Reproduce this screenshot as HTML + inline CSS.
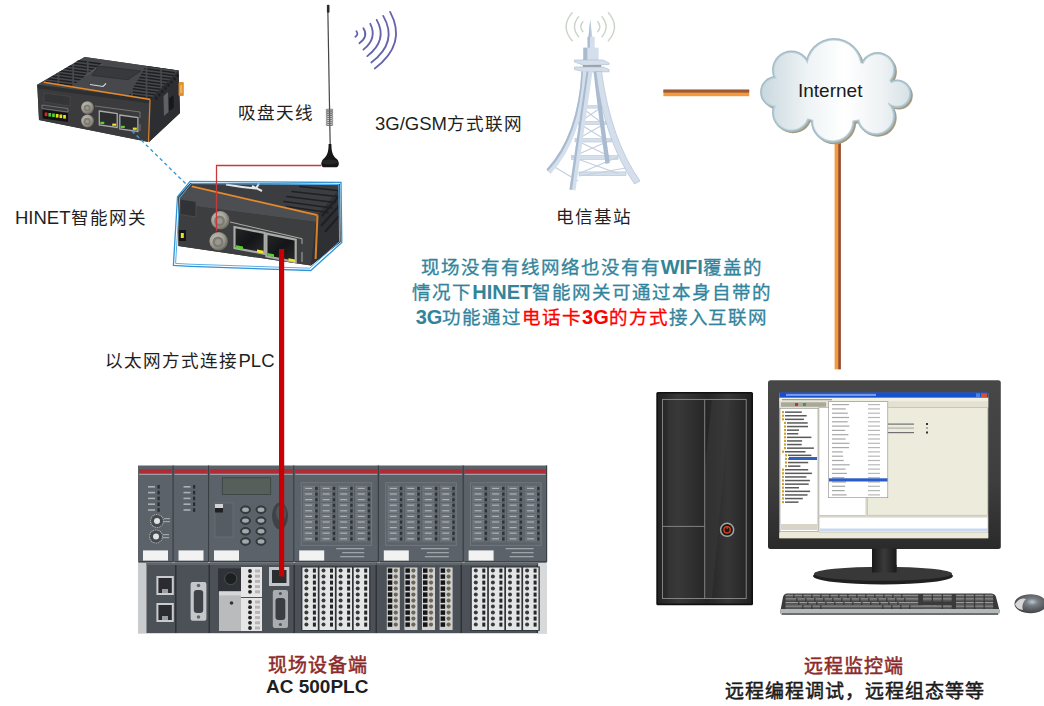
<!DOCTYPE html>
<html lang="zh-CN"><head><meta charset="utf-8">
<style>
html,body{margin:0;padding:0;background:#fff;}
body{width:1044px;height:706px;position:relative;overflow:hidden;font-family:"Liberation Sans",sans-serif;}
.a{position:absolute;}
.t{position:absolute;white-space:nowrap;font-size:18.5px;color:#1f1f1f;line-height:1;}
.ctr{position:absolute;left:392px;width:400px;text-align:center;font-size:20px;font-weight:bold;color:#31849b;line-height:25px;top:255px;white-space:nowrap;}
.ctr .r{color:#ff0000;}
.t .c{font-size:17.6px;letter-spacing:1.07px;font-weight:350;}
.ctr .c{font-size:18.5px;letter-spacing:0.95px;font-weight:500;-webkit-text-stroke:0.3px;}
.lbl{letter-spacing:1px;}
.lbl{position:absolute;white-space:nowrap;font-family:"Liberation Serif",serif;font-size:19px;font-weight:500;line-height:1;-webkit-text-stroke:0.5px;}
</style></head>
<body>

<svg class="a" style="left:0;top:0" width="1044" height="706" viewBox="0 0 1044 706">
<rect x="138" y="465.5" width="409" height="96.5" fill="#5b6269"/>
<rect x="138.5" y="466" width="34.0" height="95.5" fill="#5b6269"/>
<rect x="172.5" y="465.5" width="1.2" height="96.5" fill="#3a3f44"/>
<rect x="139" y="469.3" width="33.0" height="4" fill="#ad2c35"/>
<rect x="139" y="473.8" width="33.0" height="1.2" fill="#9aa0a6"/>
<rect x="143" y="550.4" width="25" height="10.2" fill="#f2f2f2"/>
<rect x="139" y="561" width="33.5" height="1.5" fill="#3d4247"/>
<rect x="174.0" y="466" width="34.0" height="95.5" fill="#5b6269"/>
<rect x="208" y="465.5" width="1.2" height="96.5" fill="#3a3f44"/>
<rect x="174.5" y="469.3" width="33.0" height="4" fill="#ad2c35"/>
<rect x="174.5" y="473.8" width="33.0" height="1.2" fill="#9aa0a6"/>
<rect x="178.5" y="550.4" width="25" height="10.2" fill="#f2f2f2"/>
<rect x="174.5" y="561" width="33.5" height="1.5" fill="#3d4247"/>
<rect x="209.5" y="466" width="83.69999999999999" height="95.5" fill="#5b6269"/>
<rect x="293.2" y="465.5" width="1.2" height="96.5" fill="#3a3f44"/>
<rect x="210" y="469.3" width="82.69999999999999" height="4" fill="#ad2c35"/>
<rect x="210" y="473.8" width="82.69999999999999" height="1.2" fill="#9aa0a6"/>
<rect x="214" y="550.4" width="25" height="10.2" fill="#f2f2f2"/>
<rect x="210" y="561" width="83.19999999999999" height="1.5" fill="#3d4247"/>
<rect x="294.7" y="466" width="83.10000000000002" height="95.5" fill="#5b6269"/>
<rect x="377.8" y="465.5" width="1.2" height="96.5" fill="#3a3f44"/>
<rect x="295.2" y="469.3" width="82.10000000000002" height="4" fill="#ad2c35"/>
<rect x="295.2" y="473.8" width="82.10000000000002" height="1.2" fill="#9aa0a6"/>
<rect x="299.2" y="550.4" width="25" height="10.2" fill="#f2f2f2"/>
<rect x="295.2" y="561" width="82.60000000000002" height="1.5" fill="#3d4247"/>
<rect x="379.3" y="466" width="83.30000000000001" height="95.5" fill="#5b6269"/>
<rect x="462.6" y="465.5" width="1.2" height="96.5" fill="#3a3f44"/>
<rect x="379.8" y="469.3" width="82.30000000000001" height="4" fill="#ad2c35"/>
<rect x="379.8" y="473.8" width="82.30000000000001" height="1.2" fill="#9aa0a6"/>
<rect x="383.8" y="550.4" width="25" height="10.2" fill="#f2f2f2"/>
<rect x="379.8" y="561" width="82.80000000000001" height="1.5" fill="#3d4247"/>
<rect x="464.1" y="466" width="81.89999999999998" height="95.5" fill="#5b6269"/>
<rect x="546" y="465.5" width="1.2" height="96.5" fill="#3a3f44"/>
<rect x="464.6" y="469.3" width="80.89999999999998" height="4" fill="#ad2c35"/>
<rect x="464.6" y="473.8" width="80.89999999999998" height="1.2" fill="#9aa0a6"/>
<rect x="468.6" y="550.4" width="25" height="10.2" fill="#f2f2f2"/>
<rect x="464.6" y="561" width="81.39999999999998" height="1.5" fill="#3d4247"/>
<rect x="148" y="486.0" width="7" height="1.6" fill="#aab0b6"/>
<rect x="157.5" y="485.0" width="2.2" height="3.6" fill="#2a2d30"/>
<rect x="148" y="491.8" width="7" height="1.6" fill="#aab0b6"/>
<rect x="157.5" y="490.8" width="2.2" height="3.6" fill="#2a2d30"/>
<rect x="148" y="497.6" width="7" height="1.6" fill="#aab0b6"/>
<rect x="157.5" y="496.6" width="2.2" height="3.6" fill="#2a2d30"/>
<rect x="148" y="503.4" width="7" height="1.6" fill="#aab0b6"/>
<rect x="157.5" y="502.4" width="2.2" height="3.6" fill="#2a2d30"/>
<rect x="148" y="509.2" width="7" height="1.6" fill="#aab0b6"/>
<rect x="157.5" y="508.2" width="2.2" height="3.6" fill="#2a2d30"/>
<rect x="183.5" y="486.0" width="7" height="1.6" fill="#aab0b6"/>
<rect x="193.0" y="485.0" width="2.2" height="3.6" fill="#2a2d30"/>
<rect x="183.5" y="491.8" width="7" height="1.6" fill="#aab0b6"/>
<rect x="193.0" y="490.8" width="2.2" height="3.6" fill="#2a2d30"/>
<rect x="183.5" y="497.6" width="7" height="1.6" fill="#aab0b6"/>
<rect x="193.0" y="496.6" width="2.2" height="3.6" fill="#2a2d30"/>
<rect x="183.5" y="503.4" width="7" height="1.6" fill="#aab0b6"/>
<rect x="193.0" y="502.4" width="2.2" height="3.6" fill="#2a2d30"/>
<rect x="183.5" y="509.2" width="7" height="1.6" fill="#aab0b6"/>
<rect x="193.0" y="508.2" width="2.2" height="3.6" fill="#2a2d30"/>
<circle cx="157" cy="521" r="6.5" fill="#454a4f" stroke="#b5babf" stroke-width="1.1" stroke-dasharray="0.9 0.9"/><circle cx="157" cy="521" r="3" fill="#e0e2e4"/><rect x="164" y="518" width="6" height="1.2" fill="#a0a5aa"/><rect x="164" y="521" width="6" height="1.2" fill="#a0a5aa"/>
<circle cx="156" cy="536.5" r="6.5" fill="#454a4f" stroke="#b5babf" stroke-width="1.1" stroke-dasharray="0.9 0.9"/><circle cx="156" cy="536.5" r="3" fill="#e0e2e4"/><rect x="163" y="534" width="6" height="1.2" fill="#a0a5aa"/><rect x="163" y="537" width="6" height="1.2" fill="#a0a5aa"/>
<rect x="222.3" y="477.8" width="48.4" height="16.6" fill="#565f5a" stroke="#3b4040" stroke-width="0.8"/>
<rect x="215" y="503" width="18" height="34" fill="#555c63" stroke="#6e757b" stroke-width="0.6"/>
<rect x="215" y="508" width="8" height="4.5" fill="#1e2023"/><rect x="215" y="504" width="8" height="4" fill="#d0d3d6"/>
<ellipse cx="245.5" cy="509.7" rx="5" ry="3.8" fill="#3a3f44" stroke="#2a2e32" stroke-width="0.8"/><ellipse cx="245.5" cy="509.7" rx="3.4" ry="2.2" fill="#a3a8ad"/>
<ellipse cx="261" cy="509.7" rx="5" ry="3.8" fill="#3a3f44" stroke="#2a2e32" stroke-width="0.8"/><ellipse cx="261" cy="509.7" rx="3.4" ry="2.2" fill="#a3a8ad"/>
<ellipse cx="245.5" cy="520.6" rx="5" ry="3.8" fill="#3a3f44" stroke="#2a2e32" stroke-width="0.8"/><ellipse cx="245.5" cy="520.6" rx="3.4" ry="2.2" fill="#a3a8ad"/>
<ellipse cx="261" cy="520.6" rx="5" ry="3.8" fill="#3a3f44" stroke="#2a2e32" stroke-width="0.8"/><ellipse cx="261" cy="520.6" rx="3.4" ry="2.2" fill="#a3a8ad"/>
<ellipse cx="245.5" cy="531.3" rx="5" ry="3.8" fill="#3a3f44" stroke="#2a2e32" stroke-width="0.8"/><ellipse cx="245.5" cy="531.3" rx="3.4" ry="2.2" fill="#a3a8ad"/>
<ellipse cx="261" cy="531.3" rx="5" ry="3.8" fill="#3a3f44" stroke="#2a2e32" stroke-width="0.8"/><ellipse cx="261" cy="531.3" rx="3.4" ry="2.2" fill="#a3a8ad"/>
<ellipse cx="245.5" cy="541.5" rx="5" ry="3.8" fill="#3a3f44" stroke="#2a2e32" stroke-width="0.8"/><ellipse cx="245.5" cy="541.5" rx="3.4" ry="2.2" fill="#a3a8ad"/>
<ellipse cx="261" cy="541.5" rx="5" ry="3.8" fill="#3a3f44" stroke="#2a2e32" stroke-width="0.8"/><ellipse cx="261" cy="541.5" rx="3.4" ry="2.2" fill="#a3a8ad"/>
<ellipse cx="280" cy="516" rx="8" ry="13.5" fill="#3e4348"/><ellipse cx="281" cy="513" rx="5" ry="8" fill="#50565b"/>
<rect x="301.2" y="482.8" width="70.5" height="62.5" fill="none" stroke="#777d83" stroke-width="0.8"/>
<rect x="303.2" y="485" width="15.5" height="57" fill="none" stroke="#70767c" stroke-width="0.6"/>
<rect x="304.0" y="486.5" width="10.5" height="4" fill="#6a7077" stroke="#858b91" stroke-width="0.4"/><rect x="305.2" y="487.8" width="7" height="1.2" fill="#aeb3b8"/>
<rect x="315.2" y="487.0" width="2.4" height="3" fill="#2e3236"/>
<rect x="304.0" y="492.1" width="10.5" height="4" fill="#6a7077" stroke="#858b91" stroke-width="0.4"/><rect x="305.2" y="493.40000000000003" width="7" height="1.2" fill="#aeb3b8"/>
<rect x="315.2" y="492.6" width="2.4" height="3" fill="#2e3236"/>
<rect x="304.0" y="497.7" width="10.5" height="4" fill="#6a7077" stroke="#858b91" stroke-width="0.4"/><rect x="305.2" y="499.0" width="7" height="1.2" fill="#aeb3b8"/>
<rect x="315.2" y="498.2" width="2.4" height="3" fill="#2e3236"/>
<rect x="304.0" y="503.3" width="10.5" height="4" fill="#6a7077" stroke="#858b91" stroke-width="0.4"/><rect x="305.2" y="504.6" width="7" height="1.2" fill="#aeb3b8"/>
<rect x="315.2" y="503.8" width="2.4" height="3" fill="#2e3236"/>
<rect x="304.0" y="508.9" width="10.5" height="4" fill="#6a7077" stroke="#858b91" stroke-width="0.4"/><rect x="305.2" y="510.2" width="7" height="1.2" fill="#aeb3b8"/>
<rect x="315.2" y="509.4" width="2.4" height="3" fill="#2e3236"/>
<rect x="304.0" y="514.5" width="10.5" height="4" fill="#6a7077" stroke="#858b91" stroke-width="0.4"/><rect x="305.2" y="515.8" width="7" height="1.2" fill="#aeb3b8"/>
<rect x="315.2" y="515.0" width="2.4" height="3" fill="#2e3236"/>
<rect x="304.0" y="520.1" width="10.5" height="4" fill="#6a7077" stroke="#858b91" stroke-width="0.4"/><rect x="305.2" y="521.4" width="7" height="1.2" fill="#aeb3b8"/>
<rect x="315.2" y="520.6" width="2.4" height="3" fill="#2e3236"/>
<rect x="304.0" y="525.7" width="10.5" height="4" fill="#6a7077" stroke="#858b91" stroke-width="0.4"/><rect x="305.2" y="527.0" width="7" height="1.2" fill="#aeb3b8"/>
<rect x="315.2" y="526.2" width="2.4" height="3" fill="#2e3236"/>
<rect x="304.0" y="531.3" width="10.5" height="4" fill="#6a7077" stroke="#858b91" stroke-width="0.4"/><rect x="305.2" y="532.5999999999999" width="7" height="1.2" fill="#aeb3b8"/>
<rect x="315.2" y="531.8" width="2.4" height="3" fill="#2e3236"/>
<rect x="304.0" y="536.9" width="10.5" height="4" fill="#6a7077" stroke="#858b91" stroke-width="0.4"/><rect x="305.2" y="538.1999999999999" width="7" height="1.2" fill="#aeb3b8"/>
<rect x="315.2" y="537.4" width="2.4" height="3" fill="#2e3236"/>
<rect x="320.7" y="485" width="15.5" height="57" fill="none" stroke="#70767c" stroke-width="0.6"/>
<rect x="321.5" y="486.5" width="10.5" height="4" fill="#6a7077" stroke="#858b91" stroke-width="0.4"/><rect x="322.7" y="487.8" width="7" height="1.2" fill="#aeb3b8"/>
<rect x="332.7" y="487.0" width="2.4" height="3" fill="#2e3236"/>
<rect x="321.5" y="492.1" width="10.5" height="4" fill="#6a7077" stroke="#858b91" stroke-width="0.4"/><rect x="322.7" y="493.40000000000003" width="7" height="1.2" fill="#aeb3b8"/>
<rect x="332.7" y="492.6" width="2.4" height="3" fill="#2e3236"/>
<rect x="321.5" y="497.7" width="10.5" height="4" fill="#6a7077" stroke="#858b91" stroke-width="0.4"/><rect x="322.7" y="499.0" width="7" height="1.2" fill="#aeb3b8"/>
<rect x="332.7" y="498.2" width="2.4" height="3" fill="#2e3236"/>
<rect x="321.5" y="503.3" width="10.5" height="4" fill="#6a7077" stroke="#858b91" stroke-width="0.4"/><rect x="322.7" y="504.6" width="7" height="1.2" fill="#aeb3b8"/>
<rect x="332.7" y="503.8" width="2.4" height="3" fill="#2e3236"/>
<rect x="321.5" y="508.9" width="10.5" height="4" fill="#6a7077" stroke="#858b91" stroke-width="0.4"/><rect x="322.7" y="510.2" width="7" height="1.2" fill="#aeb3b8"/>
<rect x="332.7" y="509.4" width="2.4" height="3" fill="#2e3236"/>
<rect x="321.5" y="514.5" width="10.5" height="4" fill="#6a7077" stroke="#858b91" stroke-width="0.4"/><rect x="322.7" y="515.8" width="7" height="1.2" fill="#aeb3b8"/>
<rect x="332.7" y="515.0" width="2.4" height="3" fill="#2e3236"/>
<rect x="321.5" y="520.1" width="10.5" height="4" fill="#6a7077" stroke="#858b91" stroke-width="0.4"/><rect x="322.7" y="521.4" width="7" height="1.2" fill="#aeb3b8"/>
<rect x="332.7" y="520.6" width="2.4" height="3" fill="#2e3236"/>
<rect x="321.5" y="525.7" width="10.5" height="4" fill="#6a7077" stroke="#858b91" stroke-width="0.4"/><rect x="322.7" y="527.0" width="7" height="1.2" fill="#aeb3b8"/>
<rect x="332.7" y="526.2" width="2.4" height="3" fill="#2e3236"/>
<rect x="321.5" y="531.3" width="10.5" height="4" fill="#6a7077" stroke="#858b91" stroke-width="0.4"/><rect x="322.7" y="532.5999999999999" width="7" height="1.2" fill="#aeb3b8"/>
<rect x="332.7" y="531.8" width="2.4" height="3" fill="#2e3236"/>
<rect x="321.5" y="536.9" width="10.5" height="4" fill="#6a7077" stroke="#858b91" stroke-width="0.4"/><rect x="322.7" y="538.1999999999999" width="7" height="1.2" fill="#aeb3b8"/>
<rect x="332.7" y="537.4" width="2.4" height="3" fill="#2e3236"/>
<rect x="338.2" y="485" width="15.5" height="57" fill="none" stroke="#70767c" stroke-width="0.6"/>
<rect x="339.0" y="486.5" width="10.5" height="4" fill="#6a7077" stroke="#858b91" stroke-width="0.4"/><rect x="340.2" y="487.8" width="7" height="1.2" fill="#aeb3b8"/>
<rect x="350.2" y="487.0" width="2.4" height="3" fill="#2e3236"/>
<rect x="339.0" y="492.1" width="10.5" height="4" fill="#6a7077" stroke="#858b91" stroke-width="0.4"/><rect x="340.2" y="493.40000000000003" width="7" height="1.2" fill="#aeb3b8"/>
<rect x="350.2" y="492.6" width="2.4" height="3" fill="#2e3236"/>
<rect x="339.0" y="497.7" width="10.5" height="4" fill="#6a7077" stroke="#858b91" stroke-width="0.4"/><rect x="340.2" y="499.0" width="7" height="1.2" fill="#aeb3b8"/>
<rect x="350.2" y="498.2" width="2.4" height="3" fill="#2e3236"/>
<rect x="339.0" y="503.3" width="10.5" height="4" fill="#6a7077" stroke="#858b91" stroke-width="0.4"/><rect x="340.2" y="504.6" width="7" height="1.2" fill="#aeb3b8"/>
<rect x="350.2" y="503.8" width="2.4" height="3" fill="#2e3236"/>
<rect x="339.0" y="508.9" width="10.5" height="4" fill="#6a7077" stroke="#858b91" stroke-width="0.4"/><rect x="340.2" y="510.2" width="7" height="1.2" fill="#aeb3b8"/>
<rect x="350.2" y="509.4" width="2.4" height="3" fill="#2e3236"/>
<rect x="339.0" y="514.5" width="10.5" height="4" fill="#6a7077" stroke="#858b91" stroke-width="0.4"/><rect x="340.2" y="515.8" width="7" height="1.2" fill="#aeb3b8"/>
<rect x="350.2" y="515.0" width="2.4" height="3" fill="#2e3236"/>
<rect x="339.0" y="520.1" width="10.5" height="4" fill="#6a7077" stroke="#858b91" stroke-width="0.4"/><rect x="340.2" y="521.4" width="7" height="1.2" fill="#aeb3b8"/>
<rect x="350.2" y="520.6" width="2.4" height="3" fill="#2e3236"/>
<rect x="339.0" y="525.7" width="10.5" height="4" fill="#6a7077" stroke="#858b91" stroke-width="0.4"/><rect x="340.2" y="527.0" width="7" height="1.2" fill="#aeb3b8"/>
<rect x="350.2" y="526.2" width="2.4" height="3" fill="#2e3236"/>
<rect x="339.0" y="531.3" width="10.5" height="4" fill="#6a7077" stroke="#858b91" stroke-width="0.4"/><rect x="340.2" y="532.5999999999999" width="7" height="1.2" fill="#aeb3b8"/>
<rect x="350.2" y="531.8" width="2.4" height="3" fill="#2e3236"/>
<rect x="339.0" y="536.9" width="10.5" height="4" fill="#6a7077" stroke="#858b91" stroke-width="0.4"/><rect x="340.2" y="538.1999999999999" width="7" height="1.2" fill="#aeb3b8"/>
<rect x="350.2" y="537.4" width="2.4" height="3" fill="#2e3236"/>
<rect x="355.7" y="485" width="15.5" height="57" fill="none" stroke="#70767c" stroke-width="0.6"/>
<rect x="356.5" y="486.5" width="10.5" height="4" fill="#6a7077" stroke="#858b91" stroke-width="0.4"/><rect x="357.7" y="487.8" width="7" height="1.2" fill="#aeb3b8"/>
<rect x="367.7" y="487.0" width="2.4" height="3" fill="#2e3236"/>
<rect x="356.5" y="492.1" width="10.5" height="4" fill="#6a7077" stroke="#858b91" stroke-width="0.4"/><rect x="357.7" y="493.40000000000003" width="7" height="1.2" fill="#aeb3b8"/>
<rect x="367.7" y="492.6" width="2.4" height="3" fill="#2e3236"/>
<rect x="356.5" y="497.7" width="10.5" height="4" fill="#6a7077" stroke="#858b91" stroke-width="0.4"/><rect x="357.7" y="499.0" width="7" height="1.2" fill="#aeb3b8"/>
<rect x="367.7" y="498.2" width="2.4" height="3" fill="#2e3236"/>
<rect x="356.5" y="503.3" width="10.5" height="4" fill="#6a7077" stroke="#858b91" stroke-width="0.4"/><rect x="357.7" y="504.6" width="7" height="1.2" fill="#aeb3b8"/>
<rect x="367.7" y="503.8" width="2.4" height="3" fill="#2e3236"/>
<rect x="356.5" y="508.9" width="10.5" height="4" fill="#6a7077" stroke="#858b91" stroke-width="0.4"/><rect x="357.7" y="510.2" width="7" height="1.2" fill="#aeb3b8"/>
<rect x="367.7" y="509.4" width="2.4" height="3" fill="#2e3236"/>
<rect x="356.5" y="514.5" width="10.5" height="4" fill="#6a7077" stroke="#858b91" stroke-width="0.4"/><rect x="357.7" y="515.8" width="7" height="1.2" fill="#aeb3b8"/>
<rect x="367.7" y="515.0" width="2.4" height="3" fill="#2e3236"/>
<rect x="356.5" y="520.1" width="10.5" height="4" fill="#6a7077" stroke="#858b91" stroke-width="0.4"/><rect x="357.7" y="521.4" width="7" height="1.2" fill="#aeb3b8"/>
<rect x="367.7" y="520.6" width="2.4" height="3" fill="#2e3236"/>
<rect x="356.5" y="525.7" width="10.5" height="4" fill="#6a7077" stroke="#858b91" stroke-width="0.4"/><rect x="357.7" y="527.0" width="7" height="1.2" fill="#aeb3b8"/>
<rect x="367.7" y="526.2" width="2.4" height="3" fill="#2e3236"/>
<rect x="356.5" y="531.3" width="10.5" height="4" fill="#6a7077" stroke="#858b91" stroke-width="0.4"/><rect x="357.7" y="532.5999999999999" width="7" height="1.2" fill="#aeb3b8"/>
<rect x="367.7" y="531.8" width="2.4" height="3" fill="#2e3236"/>
<rect x="356.5" y="536.9" width="10.5" height="4" fill="#6a7077" stroke="#858b91" stroke-width="0.4"/><rect x="357.7" y="538.1999999999999" width="7" height="1.2" fill="#aeb3b8"/>
<rect x="367.7" y="537.4" width="2.4" height="3" fill="#2e3236"/>
<rect x="336.2" y="548" width="28" height="1.3" fill="#9ea4aa"/><rect x="342.2" y="552" width="22" height="1.3" fill="#9ea4aa"/><rect x="340.2" y="556" width="24" height="1.3" fill="#9ea4aa"/>
<rect x="385.8" y="482.8" width="70.5" height="62.5" fill="none" stroke="#777d83" stroke-width="0.8"/>
<rect x="387.8" y="485" width="15.5" height="57" fill="none" stroke="#70767c" stroke-width="0.6"/>
<rect x="388.6" y="486.5" width="10.5" height="4" fill="#6a7077" stroke="#858b91" stroke-width="0.4"/><rect x="389.8" y="487.8" width="7" height="1.2" fill="#aeb3b8"/>
<rect x="399.8" y="487.0" width="2.4" height="3" fill="#2e3236"/>
<rect x="388.6" y="492.1" width="10.5" height="4" fill="#6a7077" stroke="#858b91" stroke-width="0.4"/><rect x="389.8" y="493.40000000000003" width="7" height="1.2" fill="#aeb3b8"/>
<rect x="399.8" y="492.6" width="2.4" height="3" fill="#2e3236"/>
<rect x="388.6" y="497.7" width="10.5" height="4" fill="#6a7077" stroke="#858b91" stroke-width="0.4"/><rect x="389.8" y="499.0" width="7" height="1.2" fill="#aeb3b8"/>
<rect x="399.8" y="498.2" width="2.4" height="3" fill="#2e3236"/>
<rect x="388.6" y="503.3" width="10.5" height="4" fill="#6a7077" stroke="#858b91" stroke-width="0.4"/><rect x="389.8" y="504.6" width="7" height="1.2" fill="#aeb3b8"/>
<rect x="399.8" y="503.8" width="2.4" height="3" fill="#2e3236"/>
<rect x="388.6" y="508.9" width="10.5" height="4" fill="#6a7077" stroke="#858b91" stroke-width="0.4"/><rect x="389.8" y="510.2" width="7" height="1.2" fill="#aeb3b8"/>
<rect x="399.8" y="509.4" width="2.4" height="3" fill="#2e3236"/>
<rect x="388.6" y="514.5" width="10.5" height="4" fill="#6a7077" stroke="#858b91" stroke-width="0.4"/><rect x="389.8" y="515.8" width="7" height="1.2" fill="#aeb3b8"/>
<rect x="399.8" y="515.0" width="2.4" height="3" fill="#2e3236"/>
<rect x="388.6" y="520.1" width="10.5" height="4" fill="#6a7077" stroke="#858b91" stroke-width="0.4"/><rect x="389.8" y="521.4" width="7" height="1.2" fill="#aeb3b8"/>
<rect x="399.8" y="520.6" width="2.4" height="3" fill="#2e3236"/>
<rect x="388.6" y="525.7" width="10.5" height="4" fill="#6a7077" stroke="#858b91" stroke-width="0.4"/><rect x="389.8" y="527.0" width="7" height="1.2" fill="#aeb3b8"/>
<rect x="399.8" y="526.2" width="2.4" height="3" fill="#2e3236"/>
<rect x="388.6" y="531.3" width="10.5" height="4" fill="#6a7077" stroke="#858b91" stroke-width="0.4"/><rect x="389.8" y="532.5999999999999" width="7" height="1.2" fill="#aeb3b8"/>
<rect x="399.8" y="531.8" width="2.4" height="3" fill="#2e3236"/>
<rect x="388.6" y="536.9" width="10.5" height="4" fill="#6a7077" stroke="#858b91" stroke-width="0.4"/><rect x="389.8" y="538.1999999999999" width="7" height="1.2" fill="#aeb3b8"/>
<rect x="399.8" y="537.4" width="2.4" height="3" fill="#2e3236"/>
<rect x="405.3" y="485" width="15.5" height="57" fill="none" stroke="#70767c" stroke-width="0.6"/>
<rect x="406.1" y="486.5" width="10.5" height="4" fill="#6a7077" stroke="#858b91" stroke-width="0.4"/><rect x="407.3" y="487.8" width="7" height="1.2" fill="#aeb3b8"/>
<rect x="417.3" y="487.0" width="2.4" height="3" fill="#2e3236"/>
<rect x="406.1" y="492.1" width="10.5" height="4" fill="#6a7077" stroke="#858b91" stroke-width="0.4"/><rect x="407.3" y="493.40000000000003" width="7" height="1.2" fill="#aeb3b8"/>
<rect x="417.3" y="492.6" width="2.4" height="3" fill="#2e3236"/>
<rect x="406.1" y="497.7" width="10.5" height="4" fill="#6a7077" stroke="#858b91" stroke-width="0.4"/><rect x="407.3" y="499.0" width="7" height="1.2" fill="#aeb3b8"/>
<rect x="417.3" y="498.2" width="2.4" height="3" fill="#2e3236"/>
<rect x="406.1" y="503.3" width="10.5" height="4" fill="#6a7077" stroke="#858b91" stroke-width="0.4"/><rect x="407.3" y="504.6" width="7" height="1.2" fill="#aeb3b8"/>
<rect x="417.3" y="503.8" width="2.4" height="3" fill="#2e3236"/>
<rect x="406.1" y="508.9" width="10.5" height="4" fill="#6a7077" stroke="#858b91" stroke-width="0.4"/><rect x="407.3" y="510.2" width="7" height="1.2" fill="#aeb3b8"/>
<rect x="417.3" y="509.4" width="2.4" height="3" fill="#2e3236"/>
<rect x="406.1" y="514.5" width="10.5" height="4" fill="#6a7077" stroke="#858b91" stroke-width="0.4"/><rect x="407.3" y="515.8" width="7" height="1.2" fill="#aeb3b8"/>
<rect x="417.3" y="515.0" width="2.4" height="3" fill="#2e3236"/>
<rect x="406.1" y="520.1" width="10.5" height="4" fill="#6a7077" stroke="#858b91" stroke-width="0.4"/><rect x="407.3" y="521.4" width="7" height="1.2" fill="#aeb3b8"/>
<rect x="417.3" y="520.6" width="2.4" height="3" fill="#2e3236"/>
<rect x="406.1" y="525.7" width="10.5" height="4" fill="#6a7077" stroke="#858b91" stroke-width="0.4"/><rect x="407.3" y="527.0" width="7" height="1.2" fill="#aeb3b8"/>
<rect x="417.3" y="526.2" width="2.4" height="3" fill="#2e3236"/>
<rect x="406.1" y="531.3" width="10.5" height="4" fill="#6a7077" stroke="#858b91" stroke-width="0.4"/><rect x="407.3" y="532.5999999999999" width="7" height="1.2" fill="#aeb3b8"/>
<rect x="417.3" y="531.8" width="2.4" height="3" fill="#2e3236"/>
<rect x="406.1" y="536.9" width="10.5" height="4" fill="#6a7077" stroke="#858b91" stroke-width="0.4"/><rect x="407.3" y="538.1999999999999" width="7" height="1.2" fill="#aeb3b8"/>
<rect x="417.3" y="537.4" width="2.4" height="3" fill="#2e3236"/>
<rect x="422.8" y="485" width="15.5" height="57" fill="none" stroke="#70767c" stroke-width="0.6"/>
<rect x="423.6" y="486.5" width="10.5" height="4" fill="#6a7077" stroke="#858b91" stroke-width="0.4"/><rect x="424.8" y="487.8" width="7" height="1.2" fill="#aeb3b8"/>
<rect x="434.8" y="487.0" width="2.4" height="3" fill="#2e3236"/>
<rect x="423.6" y="492.1" width="10.5" height="4" fill="#6a7077" stroke="#858b91" stroke-width="0.4"/><rect x="424.8" y="493.40000000000003" width="7" height="1.2" fill="#aeb3b8"/>
<rect x="434.8" y="492.6" width="2.4" height="3" fill="#2e3236"/>
<rect x="423.6" y="497.7" width="10.5" height="4" fill="#6a7077" stroke="#858b91" stroke-width="0.4"/><rect x="424.8" y="499.0" width="7" height="1.2" fill="#aeb3b8"/>
<rect x="434.8" y="498.2" width="2.4" height="3" fill="#2e3236"/>
<rect x="423.6" y="503.3" width="10.5" height="4" fill="#6a7077" stroke="#858b91" stroke-width="0.4"/><rect x="424.8" y="504.6" width="7" height="1.2" fill="#aeb3b8"/>
<rect x="434.8" y="503.8" width="2.4" height="3" fill="#2e3236"/>
<rect x="423.6" y="508.9" width="10.5" height="4" fill="#6a7077" stroke="#858b91" stroke-width="0.4"/><rect x="424.8" y="510.2" width="7" height="1.2" fill="#aeb3b8"/>
<rect x="434.8" y="509.4" width="2.4" height="3" fill="#2e3236"/>
<rect x="423.6" y="514.5" width="10.5" height="4" fill="#6a7077" stroke="#858b91" stroke-width="0.4"/><rect x="424.8" y="515.8" width="7" height="1.2" fill="#aeb3b8"/>
<rect x="434.8" y="515.0" width="2.4" height="3" fill="#2e3236"/>
<rect x="423.6" y="520.1" width="10.5" height="4" fill="#6a7077" stroke="#858b91" stroke-width="0.4"/><rect x="424.8" y="521.4" width="7" height="1.2" fill="#aeb3b8"/>
<rect x="434.8" y="520.6" width="2.4" height="3" fill="#2e3236"/>
<rect x="423.6" y="525.7" width="10.5" height="4" fill="#6a7077" stroke="#858b91" stroke-width="0.4"/><rect x="424.8" y="527.0" width="7" height="1.2" fill="#aeb3b8"/>
<rect x="434.8" y="526.2" width="2.4" height="3" fill="#2e3236"/>
<rect x="423.6" y="531.3" width="10.5" height="4" fill="#6a7077" stroke="#858b91" stroke-width="0.4"/><rect x="424.8" y="532.5999999999999" width="7" height="1.2" fill="#aeb3b8"/>
<rect x="434.8" y="531.8" width="2.4" height="3" fill="#2e3236"/>
<rect x="423.6" y="536.9" width="10.5" height="4" fill="#6a7077" stroke="#858b91" stroke-width="0.4"/><rect x="424.8" y="538.1999999999999" width="7" height="1.2" fill="#aeb3b8"/>
<rect x="434.8" y="537.4" width="2.4" height="3" fill="#2e3236"/>
<rect x="440.3" y="485" width="15.5" height="57" fill="none" stroke="#70767c" stroke-width="0.6"/>
<rect x="441.1" y="486.5" width="10.5" height="4" fill="#6a7077" stroke="#858b91" stroke-width="0.4"/><rect x="442.3" y="487.8" width="7" height="1.2" fill="#aeb3b8"/>
<rect x="452.3" y="487.0" width="2.4" height="3" fill="#2e3236"/>
<rect x="441.1" y="492.1" width="10.5" height="4" fill="#6a7077" stroke="#858b91" stroke-width="0.4"/><rect x="442.3" y="493.40000000000003" width="7" height="1.2" fill="#aeb3b8"/>
<rect x="452.3" y="492.6" width="2.4" height="3" fill="#2e3236"/>
<rect x="441.1" y="497.7" width="10.5" height="4" fill="#6a7077" stroke="#858b91" stroke-width="0.4"/><rect x="442.3" y="499.0" width="7" height="1.2" fill="#aeb3b8"/>
<rect x="452.3" y="498.2" width="2.4" height="3" fill="#2e3236"/>
<rect x="441.1" y="503.3" width="10.5" height="4" fill="#6a7077" stroke="#858b91" stroke-width="0.4"/><rect x="442.3" y="504.6" width="7" height="1.2" fill="#aeb3b8"/>
<rect x="452.3" y="503.8" width="2.4" height="3" fill="#2e3236"/>
<rect x="441.1" y="508.9" width="10.5" height="4" fill="#6a7077" stroke="#858b91" stroke-width="0.4"/><rect x="442.3" y="510.2" width="7" height="1.2" fill="#aeb3b8"/>
<rect x="452.3" y="509.4" width="2.4" height="3" fill="#2e3236"/>
<rect x="441.1" y="514.5" width="10.5" height="4" fill="#6a7077" stroke="#858b91" stroke-width="0.4"/><rect x="442.3" y="515.8" width="7" height="1.2" fill="#aeb3b8"/>
<rect x="452.3" y="515.0" width="2.4" height="3" fill="#2e3236"/>
<rect x="441.1" y="520.1" width="10.5" height="4" fill="#6a7077" stroke="#858b91" stroke-width="0.4"/><rect x="442.3" y="521.4" width="7" height="1.2" fill="#aeb3b8"/>
<rect x="452.3" y="520.6" width="2.4" height="3" fill="#2e3236"/>
<rect x="441.1" y="525.7" width="10.5" height="4" fill="#6a7077" stroke="#858b91" stroke-width="0.4"/><rect x="442.3" y="527.0" width="7" height="1.2" fill="#aeb3b8"/>
<rect x="452.3" y="526.2" width="2.4" height="3" fill="#2e3236"/>
<rect x="441.1" y="531.3" width="10.5" height="4" fill="#6a7077" stroke="#858b91" stroke-width="0.4"/><rect x="442.3" y="532.5999999999999" width="7" height="1.2" fill="#aeb3b8"/>
<rect x="452.3" y="531.8" width="2.4" height="3" fill="#2e3236"/>
<rect x="441.1" y="536.9" width="10.5" height="4" fill="#6a7077" stroke="#858b91" stroke-width="0.4"/><rect x="442.3" y="538.1999999999999" width="7" height="1.2" fill="#aeb3b8"/>
<rect x="452.3" y="537.4" width="2.4" height="3" fill="#2e3236"/>
<rect x="420.8" y="548" width="28" height="1.3" fill="#9ea4aa"/><rect x="426.8" y="552" width="22" height="1.3" fill="#9ea4aa"/><rect x="424.8" y="556" width="24" height="1.3" fill="#9ea4aa"/>
<rect x="470.6" y="482.8" width="70.5" height="62.5" fill="none" stroke="#777d83" stroke-width="0.8"/>
<rect x="472.6" y="485" width="15.5" height="57" fill="none" stroke="#70767c" stroke-width="0.6"/>
<rect x="473.40000000000003" y="486.5" width="10.5" height="4" fill="#6a7077" stroke="#858b91" stroke-width="0.4"/><rect x="474.6" y="487.8" width="7" height="1.2" fill="#aeb3b8"/>
<rect x="484.6" y="487.0" width="2.4" height="3" fill="#2e3236"/>
<rect x="473.40000000000003" y="492.1" width="10.5" height="4" fill="#6a7077" stroke="#858b91" stroke-width="0.4"/><rect x="474.6" y="493.40000000000003" width="7" height="1.2" fill="#aeb3b8"/>
<rect x="484.6" y="492.6" width="2.4" height="3" fill="#2e3236"/>
<rect x="473.40000000000003" y="497.7" width="10.5" height="4" fill="#6a7077" stroke="#858b91" stroke-width="0.4"/><rect x="474.6" y="499.0" width="7" height="1.2" fill="#aeb3b8"/>
<rect x="484.6" y="498.2" width="2.4" height="3" fill="#2e3236"/>
<rect x="473.40000000000003" y="503.3" width="10.5" height="4" fill="#6a7077" stroke="#858b91" stroke-width="0.4"/><rect x="474.6" y="504.6" width="7" height="1.2" fill="#aeb3b8"/>
<rect x="484.6" y="503.8" width="2.4" height="3" fill="#2e3236"/>
<rect x="473.40000000000003" y="508.9" width="10.5" height="4" fill="#6a7077" stroke="#858b91" stroke-width="0.4"/><rect x="474.6" y="510.2" width="7" height="1.2" fill="#aeb3b8"/>
<rect x="484.6" y="509.4" width="2.4" height="3" fill="#2e3236"/>
<rect x="473.40000000000003" y="514.5" width="10.5" height="4" fill="#6a7077" stroke="#858b91" stroke-width="0.4"/><rect x="474.6" y="515.8" width="7" height="1.2" fill="#aeb3b8"/>
<rect x="484.6" y="515.0" width="2.4" height="3" fill="#2e3236"/>
<rect x="473.40000000000003" y="520.1" width="10.5" height="4" fill="#6a7077" stroke="#858b91" stroke-width="0.4"/><rect x="474.6" y="521.4" width="7" height="1.2" fill="#aeb3b8"/>
<rect x="484.6" y="520.6" width="2.4" height="3" fill="#2e3236"/>
<rect x="473.40000000000003" y="525.7" width="10.5" height="4" fill="#6a7077" stroke="#858b91" stroke-width="0.4"/><rect x="474.6" y="527.0" width="7" height="1.2" fill="#aeb3b8"/>
<rect x="484.6" y="526.2" width="2.4" height="3" fill="#2e3236"/>
<rect x="473.40000000000003" y="531.3" width="10.5" height="4" fill="#6a7077" stroke="#858b91" stroke-width="0.4"/><rect x="474.6" y="532.5999999999999" width="7" height="1.2" fill="#aeb3b8"/>
<rect x="484.6" y="531.8" width="2.4" height="3" fill="#2e3236"/>
<rect x="473.40000000000003" y="536.9" width="10.5" height="4" fill="#6a7077" stroke="#858b91" stroke-width="0.4"/><rect x="474.6" y="538.1999999999999" width="7" height="1.2" fill="#aeb3b8"/>
<rect x="484.6" y="537.4" width="2.4" height="3" fill="#2e3236"/>
<rect x="490.1" y="485" width="15.5" height="57" fill="none" stroke="#70767c" stroke-width="0.6"/>
<rect x="490.90000000000003" y="486.5" width="10.5" height="4" fill="#6a7077" stroke="#858b91" stroke-width="0.4"/><rect x="492.1" y="487.8" width="7" height="1.2" fill="#aeb3b8"/>
<rect x="502.1" y="487.0" width="2.4" height="3" fill="#2e3236"/>
<rect x="490.90000000000003" y="492.1" width="10.5" height="4" fill="#6a7077" stroke="#858b91" stroke-width="0.4"/><rect x="492.1" y="493.40000000000003" width="7" height="1.2" fill="#aeb3b8"/>
<rect x="502.1" y="492.6" width="2.4" height="3" fill="#2e3236"/>
<rect x="490.90000000000003" y="497.7" width="10.5" height="4" fill="#6a7077" stroke="#858b91" stroke-width="0.4"/><rect x="492.1" y="499.0" width="7" height="1.2" fill="#aeb3b8"/>
<rect x="502.1" y="498.2" width="2.4" height="3" fill="#2e3236"/>
<rect x="490.90000000000003" y="503.3" width="10.5" height="4" fill="#6a7077" stroke="#858b91" stroke-width="0.4"/><rect x="492.1" y="504.6" width="7" height="1.2" fill="#aeb3b8"/>
<rect x="502.1" y="503.8" width="2.4" height="3" fill="#2e3236"/>
<rect x="490.90000000000003" y="508.9" width="10.5" height="4" fill="#6a7077" stroke="#858b91" stroke-width="0.4"/><rect x="492.1" y="510.2" width="7" height="1.2" fill="#aeb3b8"/>
<rect x="502.1" y="509.4" width="2.4" height="3" fill="#2e3236"/>
<rect x="490.90000000000003" y="514.5" width="10.5" height="4" fill="#6a7077" stroke="#858b91" stroke-width="0.4"/><rect x="492.1" y="515.8" width="7" height="1.2" fill="#aeb3b8"/>
<rect x="502.1" y="515.0" width="2.4" height="3" fill="#2e3236"/>
<rect x="490.90000000000003" y="520.1" width="10.5" height="4" fill="#6a7077" stroke="#858b91" stroke-width="0.4"/><rect x="492.1" y="521.4" width="7" height="1.2" fill="#aeb3b8"/>
<rect x="502.1" y="520.6" width="2.4" height="3" fill="#2e3236"/>
<rect x="490.90000000000003" y="525.7" width="10.5" height="4" fill="#6a7077" stroke="#858b91" stroke-width="0.4"/><rect x="492.1" y="527.0" width="7" height="1.2" fill="#aeb3b8"/>
<rect x="502.1" y="526.2" width="2.4" height="3" fill="#2e3236"/>
<rect x="490.90000000000003" y="531.3" width="10.5" height="4" fill="#6a7077" stroke="#858b91" stroke-width="0.4"/><rect x="492.1" y="532.5999999999999" width="7" height="1.2" fill="#aeb3b8"/>
<rect x="502.1" y="531.8" width="2.4" height="3" fill="#2e3236"/>
<rect x="490.90000000000003" y="536.9" width="10.5" height="4" fill="#6a7077" stroke="#858b91" stroke-width="0.4"/><rect x="492.1" y="538.1999999999999" width="7" height="1.2" fill="#aeb3b8"/>
<rect x="502.1" y="537.4" width="2.4" height="3" fill="#2e3236"/>
<rect x="507.6" y="485" width="15.5" height="57" fill="none" stroke="#70767c" stroke-width="0.6"/>
<rect x="508.40000000000003" y="486.5" width="10.5" height="4" fill="#6a7077" stroke="#858b91" stroke-width="0.4"/><rect x="509.6" y="487.8" width="7" height="1.2" fill="#aeb3b8"/>
<rect x="519.6" y="487.0" width="2.4" height="3" fill="#2e3236"/>
<rect x="508.40000000000003" y="492.1" width="10.5" height="4" fill="#6a7077" stroke="#858b91" stroke-width="0.4"/><rect x="509.6" y="493.40000000000003" width="7" height="1.2" fill="#aeb3b8"/>
<rect x="519.6" y="492.6" width="2.4" height="3" fill="#2e3236"/>
<rect x="508.40000000000003" y="497.7" width="10.5" height="4" fill="#6a7077" stroke="#858b91" stroke-width="0.4"/><rect x="509.6" y="499.0" width="7" height="1.2" fill="#aeb3b8"/>
<rect x="519.6" y="498.2" width="2.4" height="3" fill="#2e3236"/>
<rect x="508.40000000000003" y="503.3" width="10.5" height="4" fill="#6a7077" stroke="#858b91" stroke-width="0.4"/><rect x="509.6" y="504.6" width="7" height="1.2" fill="#aeb3b8"/>
<rect x="519.6" y="503.8" width="2.4" height="3" fill="#2e3236"/>
<rect x="508.40000000000003" y="508.9" width="10.5" height="4" fill="#6a7077" stroke="#858b91" stroke-width="0.4"/><rect x="509.6" y="510.2" width="7" height="1.2" fill="#aeb3b8"/>
<rect x="519.6" y="509.4" width="2.4" height="3" fill="#2e3236"/>
<rect x="508.40000000000003" y="514.5" width="10.5" height="4" fill="#6a7077" stroke="#858b91" stroke-width="0.4"/><rect x="509.6" y="515.8" width="7" height="1.2" fill="#aeb3b8"/>
<rect x="519.6" y="515.0" width="2.4" height="3" fill="#2e3236"/>
<rect x="508.40000000000003" y="520.1" width="10.5" height="4" fill="#6a7077" stroke="#858b91" stroke-width="0.4"/><rect x="509.6" y="521.4" width="7" height="1.2" fill="#aeb3b8"/>
<rect x="519.6" y="520.6" width="2.4" height="3" fill="#2e3236"/>
<rect x="508.40000000000003" y="525.7" width="10.5" height="4" fill="#6a7077" stroke="#858b91" stroke-width="0.4"/><rect x="509.6" y="527.0" width="7" height="1.2" fill="#aeb3b8"/>
<rect x="519.6" y="526.2" width="2.4" height="3" fill="#2e3236"/>
<rect x="508.40000000000003" y="531.3" width="10.5" height="4" fill="#6a7077" stroke="#858b91" stroke-width="0.4"/><rect x="509.6" y="532.5999999999999" width="7" height="1.2" fill="#aeb3b8"/>
<rect x="519.6" y="531.8" width="2.4" height="3" fill="#2e3236"/>
<rect x="508.40000000000003" y="536.9" width="10.5" height="4" fill="#6a7077" stroke="#858b91" stroke-width="0.4"/><rect x="509.6" y="538.1999999999999" width="7" height="1.2" fill="#aeb3b8"/>
<rect x="519.6" y="537.4" width="2.4" height="3" fill="#2e3236"/>
<rect x="525.1" y="485" width="15.5" height="57" fill="none" stroke="#70767c" stroke-width="0.6"/>
<rect x="525.9" y="486.5" width="10.5" height="4" fill="#6a7077" stroke="#858b91" stroke-width="0.4"/><rect x="527.1" y="487.8" width="7" height="1.2" fill="#aeb3b8"/>
<rect x="537.1" y="487.0" width="2.4" height="3" fill="#2e3236"/>
<rect x="525.9" y="492.1" width="10.5" height="4" fill="#6a7077" stroke="#858b91" stroke-width="0.4"/><rect x="527.1" y="493.40000000000003" width="7" height="1.2" fill="#aeb3b8"/>
<rect x="537.1" y="492.6" width="2.4" height="3" fill="#2e3236"/>
<rect x="525.9" y="497.7" width="10.5" height="4" fill="#6a7077" stroke="#858b91" stroke-width="0.4"/><rect x="527.1" y="499.0" width="7" height="1.2" fill="#aeb3b8"/>
<rect x="537.1" y="498.2" width="2.4" height="3" fill="#2e3236"/>
<rect x="525.9" y="503.3" width="10.5" height="4" fill="#6a7077" stroke="#858b91" stroke-width="0.4"/><rect x="527.1" y="504.6" width="7" height="1.2" fill="#aeb3b8"/>
<rect x="537.1" y="503.8" width="2.4" height="3" fill="#2e3236"/>
<rect x="525.9" y="508.9" width="10.5" height="4" fill="#6a7077" stroke="#858b91" stroke-width="0.4"/><rect x="527.1" y="510.2" width="7" height="1.2" fill="#aeb3b8"/>
<rect x="537.1" y="509.4" width="2.4" height="3" fill="#2e3236"/>
<rect x="525.9" y="514.5" width="10.5" height="4" fill="#6a7077" stroke="#858b91" stroke-width="0.4"/><rect x="527.1" y="515.8" width="7" height="1.2" fill="#aeb3b8"/>
<rect x="537.1" y="515.0" width="2.4" height="3" fill="#2e3236"/>
<rect x="525.9" y="520.1" width="10.5" height="4" fill="#6a7077" stroke="#858b91" stroke-width="0.4"/><rect x="527.1" y="521.4" width="7" height="1.2" fill="#aeb3b8"/>
<rect x="537.1" y="520.6" width="2.4" height="3" fill="#2e3236"/>
<rect x="525.9" y="525.7" width="10.5" height="4" fill="#6a7077" stroke="#858b91" stroke-width="0.4"/><rect x="527.1" y="527.0" width="7" height="1.2" fill="#aeb3b8"/>
<rect x="537.1" y="526.2" width="2.4" height="3" fill="#2e3236"/>
<rect x="525.9" y="531.3" width="10.5" height="4" fill="#6a7077" stroke="#858b91" stroke-width="0.4"/><rect x="527.1" y="532.5999999999999" width="7" height="1.2" fill="#aeb3b8"/>
<rect x="537.1" y="531.8" width="2.4" height="3" fill="#2e3236"/>
<rect x="525.9" y="536.9" width="10.5" height="4" fill="#6a7077" stroke="#858b91" stroke-width="0.4"/><rect x="527.1" y="538.1999999999999" width="7" height="1.2" fill="#aeb3b8"/>
<rect x="537.1" y="537.4" width="2.4" height="3" fill="#2e3236"/>
<rect x="505.6" y="548" width="28" height="1.3" fill="#9ea4aa"/><rect x="511.6" y="552" width="22" height="1.3" fill="#9ea4aa"/><rect x="509.6" y="556" width="24" height="1.3" fill="#9ea4aa"/>
<rect x="138" y="562.5" width="409" height="70.7" fill="#4b5157"/>
<rect x="138" y="563" width="8.5" height="70" fill="#c9cbcd"/>
<rect x="537.6" y="563" width="9.4" height="70" fill="#d7d9db"/>
<rect x="175" y="563" width="1.5" height="70" fill="#2f3337"/>
<rect x="146.5" y="563" width="29.5" height="2" fill="#5f656b"/>
<rect x="208.5" y="563" width="1.5" height="70" fill="#2f3337"/>
<rect x="176" y="563" width="33.5" height="2" fill="#5f656b"/>
<rect x="293.5" y="563" width="1.5" height="70" fill="#2f3337"/>
<rect x="209.5" y="563" width="85.0" height="2" fill="#5f656b"/>
<rect x="375.5" y="563" width="1.5" height="70" fill="#2f3337"/>
<rect x="294.5" y="563" width="82.0" height="2" fill="#5f656b"/>
<rect x="460.5" y="563" width="1.5" height="70" fill="#2f3337"/>
<rect x="376.5" y="563" width="85.0" height="2" fill="#5f656b"/>
<rect x="536.6" y="563" width="1.5" height="70" fill="#2f3337"/>
<rect x="461.5" y="563" width="76.10000000000002" height="2" fill="#5f656b"/>
<rect x="156.4" y="576" width="17.4" height="19" fill="#c9cccf"/><rect x="158.4" y="578" width="13.4" height="15" fill="#2a2c2f"/><rect x="162" y="589" width="6" height="4" fill="#9a9ea2"/>
<rect x="156.4" y="603" width="17.4" height="19" fill="#c9cccf"/><rect x="158.4" y="605" width="13.4" height="15" fill="#2a2c2f"/><rect x="162" y="616" width="6" height="4" fill="#9a9ea2"/>
<rect x="190.6" y="582" width="15.8" height="38.7" rx="2" fill="#c5c8cb"/><rect x="193.8" y="590" width="9.4" height="23" rx="3" fill="#3e4348"/><circle cx="198.5" cy="585.5" r="1.8" fill="#666"/><circle cx="198.5" cy="617" r="1.8" fill="#666"/>
<rect x="218" y="568.4" width="23" height="23" fill="#2f3337"/><circle cx="230.7" cy="578.6" r="6" fill="#1c1e20" stroke="#555" stroke-width="0.8"/>
<rect x="219" y="591.4" width="22" height="39.6" fill="#b9bbbd"/><rect x="219" y="591.4" width="22" height="4" fill="#d5d7d9"/><circle cx="231.5" cy="603" r="1.8" fill="#333"/>
<rect x="241" y="567" width="21" height="30" fill="#e6e6e6"/>
<circle cx="250" cy="571.0" r="1.9" fill="#222"/>
<rect x="255" y="569.5" width="5" height="3" fill="#b5b5b5"/>
<circle cx="250" cy="576.2" r="1.9" fill="#222"/>
<rect x="255" y="574.7" width="5" height="3" fill="#b5b5b5"/>
<circle cx="250" cy="581.4" r="1.9" fill="#222"/>
<rect x="255" y="579.9" width="5" height="3" fill="#b5b5b5"/>
<circle cx="250" cy="586.6" r="1.9" fill="#222"/>
<rect x="255" y="585.1" width="5" height="3" fill="#b5b5b5"/>
<circle cx="250" cy="591.8" r="1.9" fill="#222"/>
<rect x="255" y="590.3" width="5" height="3" fill="#b5b5b5"/>
<rect x="241" y="598" width="21" height="33" fill="#e6e6e6"/>
<circle cx="250" cy="602.0" r="1.9" fill="#222"/>
<rect x="255" y="600.5" width="5" height="3" fill="#b5b5b5"/>
<circle cx="250" cy="607.2" r="1.9" fill="#222"/>
<rect x="255" y="605.7" width="5" height="3" fill="#b5b5b5"/>
<circle cx="250" cy="612.4" r="1.9" fill="#222"/>
<rect x="255" y="610.9" width="5" height="3" fill="#b5b5b5"/>
<circle cx="250" cy="617.6" r="1.9" fill="#222"/>
<rect x="255" y="616.1" width="5" height="3" fill="#b5b5b5"/>
<circle cx="250" cy="622.8" r="1.9" fill="#222"/>
<rect x="255" y="621.3" width="5" height="3" fill="#b5b5b5"/>
<circle cx="250" cy="628.0" r="1.9" fill="#222"/>
<rect x="255" y="626.5" width="5" height="3" fill="#b5b5b5"/>
<rect x="269" y="567" width="20.3" height="19" fill="#c4c7ca"/><rect x="272" y="570" width="14.5" height="13" fill="#2b2e31"/>
<rect x="272.8" y="590" width="15.2" height="38" rx="2" fill="#a9adb0"/><rect x="275.5" y="598" width="9.8" height="22" rx="3" fill="#3a3e42"/><circle cx="280.4" cy="593.5" r="1.6" fill="#555"/><circle cx="280.4" cy="624.5" r="1.6" fill="#555"/>
<rect x="301.2" y="566.4" width="69.2" height="64.4" fill="#303438"/>
<rect x="302.4" y="567.5" width="15.4" height="62.5" fill="#e4e5e6"/>
<circle cx="306.4" cy="570.6" r="2" fill="#3a3a3a"/><rect x="312.9" y="568.6" width="3" height="4" fill="#262626"/>
<circle cx="306.4" cy="576.6" r="2" fill="#3a3a3a"/><rect x="312.9" y="574.6" width="3" height="4" fill="#262626"/>
<circle cx="306.4" cy="582.6" r="2" fill="#3a3a3a"/><rect x="312.9" y="580.6" width="3" height="4" fill="#262626"/>
<circle cx="306.4" cy="588.6" r="2" fill="#3a3a3a"/><rect x="312.9" y="586.6" width="3" height="4" fill="#262626"/>
<circle cx="306.4" cy="594.6" r="2" fill="#3a3a3a"/><rect x="312.9" y="592.6" width="3" height="4" fill="#262626"/>
<circle cx="306.4" cy="600.6" r="2" fill="#3a3a3a"/><rect x="312.9" y="598.6" width="3" height="4" fill="#262626"/>
<circle cx="306.4" cy="606.6" r="2" fill="#3a3a3a"/><rect x="312.9" y="604.6" width="3" height="4" fill="#262626"/>
<circle cx="306.4" cy="612.6" r="2" fill="#3a3a3a"/><rect x="312.9" y="610.6" width="3" height="4" fill="#262626"/>
<circle cx="306.4" cy="618.6" r="2" fill="#3a3a3a"/><rect x="312.9" y="616.6" width="3" height="4" fill="#262626"/>
<circle cx="306.4" cy="624.6" r="2" fill="#3a3a3a"/><rect x="312.9" y="622.6" width="3" height="4" fill="#262626"/>
<rect x="319.5" y="567.5" width="15.4" height="62.5" fill="#e4e5e6"/>
<circle cx="323.5" cy="570.6" r="2" fill="#3a3a3a"/><rect x="330.0" y="568.6" width="3" height="4" fill="#262626"/>
<circle cx="323.5" cy="576.6" r="2" fill="#3a3a3a"/><rect x="330.0" y="574.6" width="3" height="4" fill="#262626"/>
<circle cx="323.5" cy="582.6" r="2" fill="#3a3a3a"/><rect x="330.0" y="580.6" width="3" height="4" fill="#262626"/>
<circle cx="323.5" cy="588.6" r="2" fill="#3a3a3a"/><rect x="330.0" y="586.6" width="3" height="4" fill="#262626"/>
<circle cx="323.5" cy="594.6" r="2" fill="#3a3a3a"/><rect x="330.0" y="592.6" width="3" height="4" fill="#262626"/>
<circle cx="323.5" cy="600.6" r="2" fill="#3a3a3a"/><rect x="330.0" y="598.6" width="3" height="4" fill="#262626"/>
<circle cx="323.5" cy="606.6" r="2" fill="#3a3a3a"/><rect x="330.0" y="604.6" width="3" height="4" fill="#262626"/>
<circle cx="323.5" cy="612.6" r="2" fill="#3a3a3a"/><rect x="330.0" y="610.6" width="3" height="4" fill="#262626"/>
<circle cx="323.5" cy="618.6" r="2" fill="#3a3a3a"/><rect x="330.0" y="616.6" width="3" height="4" fill="#262626"/>
<circle cx="323.5" cy="624.6" r="2" fill="#3a3a3a"/><rect x="330.0" y="622.6" width="3" height="4" fill="#262626"/>
<rect x="336.59999999999997" y="567.5" width="15.4" height="62.5" fill="#e4e5e6"/>
<circle cx="340.59999999999997" cy="570.6" r="2" fill="#3a3a3a"/><rect x="347.09999999999997" y="568.6" width="3" height="4" fill="#262626"/>
<circle cx="340.59999999999997" cy="576.6" r="2" fill="#3a3a3a"/><rect x="347.09999999999997" y="574.6" width="3" height="4" fill="#262626"/>
<circle cx="340.59999999999997" cy="582.6" r="2" fill="#3a3a3a"/><rect x="347.09999999999997" y="580.6" width="3" height="4" fill="#262626"/>
<circle cx="340.59999999999997" cy="588.6" r="2" fill="#3a3a3a"/><rect x="347.09999999999997" y="586.6" width="3" height="4" fill="#262626"/>
<circle cx="340.59999999999997" cy="594.6" r="2" fill="#3a3a3a"/><rect x="347.09999999999997" y="592.6" width="3" height="4" fill="#262626"/>
<circle cx="340.59999999999997" cy="600.6" r="2" fill="#3a3a3a"/><rect x="347.09999999999997" y="598.6" width="3" height="4" fill="#262626"/>
<circle cx="340.59999999999997" cy="606.6" r="2" fill="#3a3a3a"/><rect x="347.09999999999997" y="604.6" width="3" height="4" fill="#262626"/>
<circle cx="340.59999999999997" cy="612.6" r="2" fill="#3a3a3a"/><rect x="347.09999999999997" y="610.6" width="3" height="4" fill="#262626"/>
<circle cx="340.59999999999997" cy="618.6" r="2" fill="#3a3a3a"/><rect x="347.09999999999997" y="616.6" width="3" height="4" fill="#262626"/>
<circle cx="340.59999999999997" cy="624.6" r="2" fill="#3a3a3a"/><rect x="347.09999999999997" y="622.6" width="3" height="4" fill="#262626"/>
<rect x="353.7" y="567.5" width="15.4" height="62.5" fill="#e4e5e6"/>
<circle cx="357.7" cy="570.6" r="2" fill="#3a3a3a"/><rect x="364.2" y="568.6" width="3" height="4" fill="#262626"/>
<circle cx="357.7" cy="576.6" r="2" fill="#3a3a3a"/><rect x="364.2" y="574.6" width="3" height="4" fill="#262626"/>
<circle cx="357.7" cy="582.6" r="2" fill="#3a3a3a"/><rect x="364.2" y="580.6" width="3" height="4" fill="#262626"/>
<circle cx="357.7" cy="588.6" r="2" fill="#3a3a3a"/><rect x="364.2" y="586.6" width="3" height="4" fill="#262626"/>
<circle cx="357.7" cy="594.6" r="2" fill="#3a3a3a"/><rect x="364.2" y="592.6" width="3" height="4" fill="#262626"/>
<circle cx="357.7" cy="600.6" r="2" fill="#3a3a3a"/><rect x="364.2" y="598.6" width="3" height="4" fill="#262626"/>
<circle cx="357.7" cy="606.6" r="2" fill="#3a3a3a"/><rect x="364.2" y="604.6" width="3" height="4" fill="#262626"/>
<circle cx="357.7" cy="612.6" r="2" fill="#3a3a3a"/><rect x="364.2" y="610.6" width="3" height="4" fill="#262626"/>
<circle cx="357.7" cy="618.6" r="2" fill="#3a3a3a"/><rect x="364.2" y="616.6" width="3" height="4" fill="#262626"/>
<circle cx="357.7" cy="624.6" r="2" fill="#3a3a3a"/><rect x="364.2" y="622.6" width="3" height="4" fill="#262626"/>
<rect x="470.6" y="566.4" width="69.2" height="64.4" fill="#303438"/>
<rect x="471.8" y="567.5" width="15.4" height="62.5" fill="#e4e5e6"/>
<circle cx="475.8" cy="570.6" r="2" fill="#3a3a3a"/><rect x="482.3" y="568.6" width="3" height="4" fill="#262626"/>
<circle cx="475.8" cy="576.6" r="2" fill="#3a3a3a"/><rect x="482.3" y="574.6" width="3" height="4" fill="#262626"/>
<circle cx="475.8" cy="582.6" r="2" fill="#3a3a3a"/><rect x="482.3" y="580.6" width="3" height="4" fill="#262626"/>
<circle cx="475.8" cy="588.6" r="2" fill="#3a3a3a"/><rect x="482.3" y="586.6" width="3" height="4" fill="#262626"/>
<circle cx="475.8" cy="594.6" r="2" fill="#3a3a3a"/><rect x="482.3" y="592.6" width="3" height="4" fill="#262626"/>
<circle cx="475.8" cy="600.6" r="2" fill="#3a3a3a"/><rect x="482.3" y="598.6" width="3" height="4" fill="#262626"/>
<circle cx="475.8" cy="606.6" r="2" fill="#3a3a3a"/><rect x="482.3" y="604.6" width="3" height="4" fill="#262626"/>
<circle cx="475.8" cy="612.6" r="2" fill="#3a3a3a"/><rect x="482.3" y="610.6" width="3" height="4" fill="#262626"/>
<circle cx="475.8" cy="618.6" r="2" fill="#3a3a3a"/><rect x="482.3" y="616.6" width="3" height="4" fill="#262626"/>
<circle cx="475.8" cy="624.6" r="2" fill="#3a3a3a"/><rect x="482.3" y="622.6" width="3" height="4" fill="#262626"/>
<rect x="488.90000000000003" y="567.5" width="15.4" height="62.5" fill="#e4e5e6"/>
<circle cx="492.90000000000003" cy="570.6" r="2" fill="#3a3a3a"/><rect x="499.40000000000003" y="568.6" width="3" height="4" fill="#262626"/>
<circle cx="492.90000000000003" cy="576.6" r="2" fill="#3a3a3a"/><rect x="499.40000000000003" y="574.6" width="3" height="4" fill="#262626"/>
<circle cx="492.90000000000003" cy="582.6" r="2" fill="#3a3a3a"/><rect x="499.40000000000003" y="580.6" width="3" height="4" fill="#262626"/>
<circle cx="492.90000000000003" cy="588.6" r="2" fill="#3a3a3a"/><rect x="499.40000000000003" y="586.6" width="3" height="4" fill="#262626"/>
<circle cx="492.90000000000003" cy="594.6" r="2" fill="#3a3a3a"/><rect x="499.40000000000003" y="592.6" width="3" height="4" fill="#262626"/>
<circle cx="492.90000000000003" cy="600.6" r="2" fill="#3a3a3a"/><rect x="499.40000000000003" y="598.6" width="3" height="4" fill="#262626"/>
<circle cx="492.90000000000003" cy="606.6" r="2" fill="#3a3a3a"/><rect x="499.40000000000003" y="604.6" width="3" height="4" fill="#262626"/>
<circle cx="492.90000000000003" cy="612.6" r="2" fill="#3a3a3a"/><rect x="499.40000000000003" y="610.6" width="3" height="4" fill="#262626"/>
<circle cx="492.90000000000003" cy="618.6" r="2" fill="#3a3a3a"/><rect x="499.40000000000003" y="616.6" width="3" height="4" fill="#262626"/>
<circle cx="492.90000000000003" cy="624.6" r="2" fill="#3a3a3a"/><rect x="499.40000000000003" y="622.6" width="3" height="4" fill="#262626"/>
<rect x="506.0" y="567.5" width="15.4" height="62.5" fill="#e4e5e6"/>
<circle cx="510.0" cy="570.6" r="2" fill="#3a3a3a"/><rect x="516.5" y="568.6" width="3" height="4" fill="#262626"/>
<circle cx="510.0" cy="576.6" r="2" fill="#3a3a3a"/><rect x="516.5" y="574.6" width="3" height="4" fill="#262626"/>
<circle cx="510.0" cy="582.6" r="2" fill="#3a3a3a"/><rect x="516.5" y="580.6" width="3" height="4" fill="#262626"/>
<circle cx="510.0" cy="588.6" r="2" fill="#3a3a3a"/><rect x="516.5" y="586.6" width="3" height="4" fill="#262626"/>
<circle cx="510.0" cy="594.6" r="2" fill="#3a3a3a"/><rect x="516.5" y="592.6" width="3" height="4" fill="#262626"/>
<circle cx="510.0" cy="600.6" r="2" fill="#3a3a3a"/><rect x="516.5" y="598.6" width="3" height="4" fill="#262626"/>
<circle cx="510.0" cy="606.6" r="2" fill="#3a3a3a"/><rect x="516.5" y="604.6" width="3" height="4" fill="#262626"/>
<circle cx="510.0" cy="612.6" r="2" fill="#3a3a3a"/><rect x="516.5" y="610.6" width="3" height="4" fill="#262626"/>
<circle cx="510.0" cy="618.6" r="2" fill="#3a3a3a"/><rect x="516.5" y="616.6" width="3" height="4" fill="#262626"/>
<circle cx="510.0" cy="624.6" r="2" fill="#3a3a3a"/><rect x="516.5" y="622.6" width="3" height="4" fill="#262626"/>
<rect x="523.1" y="567.5" width="15.4" height="62.5" fill="#e4e5e6"/>
<circle cx="527.1" cy="570.6" r="2" fill="#3a3a3a"/><rect x="533.6" y="568.6" width="3" height="4" fill="#262626"/>
<circle cx="527.1" cy="576.6" r="2" fill="#3a3a3a"/><rect x="533.6" y="574.6" width="3" height="4" fill="#262626"/>
<circle cx="527.1" cy="582.6" r="2" fill="#3a3a3a"/><rect x="533.6" y="580.6" width="3" height="4" fill="#262626"/>
<circle cx="527.1" cy="588.6" r="2" fill="#3a3a3a"/><rect x="533.6" y="586.6" width="3" height="4" fill="#262626"/>
<circle cx="527.1" cy="594.6" r="2" fill="#3a3a3a"/><rect x="533.6" y="592.6" width="3" height="4" fill="#262626"/>
<circle cx="527.1" cy="600.6" r="2" fill="#3a3a3a"/><rect x="533.6" y="598.6" width="3" height="4" fill="#262626"/>
<circle cx="527.1" cy="606.6" r="2" fill="#3a3a3a"/><rect x="533.6" y="604.6" width="3" height="4" fill="#262626"/>
<circle cx="527.1" cy="612.6" r="2" fill="#3a3a3a"/><rect x="533.6" y="610.6" width="3" height="4" fill="#262626"/>
<circle cx="527.1" cy="618.6" r="2" fill="#3a3a3a"/><rect x="533.6" y="616.6" width="3" height="4" fill="#262626"/>
<circle cx="527.1" cy="624.6" r="2" fill="#3a3a3a"/><rect x="533.6" y="622.6" width="3" height="4" fill="#262626"/>
<rect x="383.8" y="566.4" width="72" height="64.4" fill="#4b5157"/>
<rect x="386.8" y="567.5" width="13" height="62.5" fill="#d0d1d2"/>
<rect x="387.8" y="568.4" width="4.5" height="4.4" fill="#151515"/><circle cx="395.8" cy="570.6" r="2.1" fill="#6e6650"/>
<rect x="387.8" y="574.4" width="4.5" height="4.4" fill="#151515"/><circle cx="395.8" cy="576.6" r="2.1" fill="#6e6650"/>
<rect x="387.8" y="580.4" width="4.5" height="4.4" fill="#151515"/><circle cx="395.8" cy="582.6" r="2.1" fill="#6e6650"/>
<rect x="387.8" y="586.4" width="4.5" height="4.4" fill="#151515"/><circle cx="395.8" cy="588.6" r="2.1" fill="#6e6650"/>
<rect x="387.8" y="592.4" width="4.5" height="4.4" fill="#151515"/><circle cx="395.8" cy="594.6" r="2.1" fill="#6e6650"/>
<rect x="387.8" y="598.4" width="4.5" height="4.4" fill="#151515"/><circle cx="395.8" cy="600.6" r="2.1" fill="#6e6650"/>
<rect x="387.8" y="604.4" width="4.5" height="4.4" fill="#151515"/><circle cx="395.8" cy="606.6" r="2.1" fill="#6e6650"/>
<rect x="387.8" y="610.4" width="4.5" height="4.4" fill="#151515"/><circle cx="395.8" cy="612.6" r="2.1" fill="#6e6650"/>
<rect x="387.8" y="616.4" width="4.5" height="4.4" fill="#151515"/><circle cx="395.8" cy="618.6" r="2.1" fill="#6e6650"/>
<rect x="387.8" y="622.4" width="4.5" height="4.4" fill="#151515"/><circle cx="395.8" cy="624.6" r="2.1" fill="#6e6650"/>
<rect x="404.40000000000003" y="567.5" width="13" height="62.5" fill="#d0d1d2"/>
<rect x="405.40000000000003" y="568.4" width="4.5" height="4.4" fill="#151515"/><circle cx="413.40000000000003" cy="570.6" r="2.1" fill="#6e6650"/>
<rect x="405.40000000000003" y="574.4" width="4.5" height="4.4" fill="#151515"/><circle cx="413.40000000000003" cy="576.6" r="2.1" fill="#6e6650"/>
<rect x="405.40000000000003" y="580.4" width="4.5" height="4.4" fill="#151515"/><circle cx="413.40000000000003" cy="582.6" r="2.1" fill="#6e6650"/>
<rect x="405.40000000000003" y="586.4" width="4.5" height="4.4" fill="#151515"/><circle cx="413.40000000000003" cy="588.6" r="2.1" fill="#6e6650"/>
<rect x="405.40000000000003" y="592.4" width="4.5" height="4.4" fill="#151515"/><circle cx="413.40000000000003" cy="594.6" r="2.1" fill="#6e6650"/>
<rect x="405.40000000000003" y="598.4" width="4.5" height="4.4" fill="#151515"/><circle cx="413.40000000000003" cy="600.6" r="2.1" fill="#6e6650"/>
<rect x="405.40000000000003" y="604.4" width="4.5" height="4.4" fill="#151515"/><circle cx="413.40000000000003" cy="606.6" r="2.1" fill="#6e6650"/>
<rect x="405.40000000000003" y="610.4" width="4.5" height="4.4" fill="#151515"/><circle cx="413.40000000000003" cy="612.6" r="2.1" fill="#6e6650"/>
<rect x="405.40000000000003" y="616.4" width="4.5" height="4.4" fill="#151515"/><circle cx="413.40000000000003" cy="618.6" r="2.1" fill="#6e6650"/>
<rect x="405.40000000000003" y="622.4" width="4.5" height="4.4" fill="#151515"/><circle cx="413.40000000000003" cy="624.6" r="2.1" fill="#6e6650"/>
<rect x="422.0" y="567.5" width="13" height="62.5" fill="#d0d1d2"/>
<rect x="423.0" y="568.4" width="4.5" height="4.4" fill="#151515"/><circle cx="431.0" cy="570.6" r="2.1" fill="#6e6650"/>
<rect x="423.0" y="574.4" width="4.5" height="4.4" fill="#151515"/><circle cx="431.0" cy="576.6" r="2.1" fill="#6e6650"/>
<rect x="423.0" y="580.4" width="4.5" height="4.4" fill="#151515"/><circle cx="431.0" cy="582.6" r="2.1" fill="#6e6650"/>
<rect x="423.0" y="586.4" width="4.5" height="4.4" fill="#151515"/><circle cx="431.0" cy="588.6" r="2.1" fill="#6e6650"/>
<rect x="423.0" y="592.4" width="4.5" height="4.4" fill="#151515"/><circle cx="431.0" cy="594.6" r="2.1" fill="#6e6650"/>
<rect x="423.0" y="598.4" width="4.5" height="4.4" fill="#151515"/><circle cx="431.0" cy="600.6" r="2.1" fill="#6e6650"/>
<rect x="423.0" y="604.4" width="4.5" height="4.4" fill="#151515"/><circle cx="431.0" cy="606.6" r="2.1" fill="#6e6650"/>
<rect x="423.0" y="610.4" width="4.5" height="4.4" fill="#151515"/><circle cx="431.0" cy="612.6" r="2.1" fill="#6e6650"/>
<rect x="423.0" y="616.4" width="4.5" height="4.4" fill="#151515"/><circle cx="431.0" cy="618.6" r="2.1" fill="#6e6650"/>
<rect x="423.0" y="622.4" width="4.5" height="4.4" fill="#151515"/><circle cx="431.0" cy="624.6" r="2.1" fill="#6e6650"/>
<rect x="439.6" y="567.5" width="13" height="62.5" fill="#d0d1d2"/>
<rect x="440.6" y="568.4" width="4.5" height="4.4" fill="#151515"/><circle cx="448.6" cy="570.6" r="2.1" fill="#6e6650"/>
<rect x="440.6" y="574.4" width="4.5" height="4.4" fill="#151515"/><circle cx="448.6" cy="576.6" r="2.1" fill="#6e6650"/>
<rect x="440.6" y="580.4" width="4.5" height="4.4" fill="#151515"/><circle cx="448.6" cy="582.6" r="2.1" fill="#6e6650"/>
<rect x="440.6" y="586.4" width="4.5" height="4.4" fill="#151515"/><circle cx="448.6" cy="588.6" r="2.1" fill="#6e6650"/>
<rect x="440.6" y="592.4" width="4.5" height="4.4" fill="#151515"/><circle cx="448.6" cy="594.6" r="2.1" fill="#6e6650"/>
<rect x="440.6" y="598.4" width="4.5" height="4.4" fill="#151515"/><circle cx="448.6" cy="600.6" r="2.1" fill="#6e6650"/>
<rect x="440.6" y="604.4" width="4.5" height="4.4" fill="#151515"/><circle cx="448.6" cy="606.6" r="2.1" fill="#6e6650"/>
<rect x="440.6" y="610.4" width="4.5" height="4.4" fill="#151515"/><circle cx="448.6" cy="612.6" r="2.1" fill="#6e6650"/>
<rect x="440.6" y="616.4" width="4.5" height="4.4" fill="#151515"/><circle cx="448.6" cy="618.6" r="2.1" fill="#6e6650"/>
<rect x="440.6" y="622.4" width="4.5" height="4.4" fill="#151515"/><circle cx="448.6" cy="624.6" r="2.1" fill="#6e6650"/>
<defs>
<radialGradient id="bnc" cx="0.4" cy="0.4" r="0.6"><stop offset="0" stop-color="#c9c7bc"/><stop offset="0.6" stop-color="#a6a498"/><stop offset="1" stop-color="#6f6d64"/></radialGradient>
<linearGradient id="rj" x1="0" x2="1" y1="0" y2="1"><stop offset="0" stop-color="#262729"/><stop offset="0.5" stop-color="#141516"/><stop offset="1" stop-color="#2a2b2d"/></linearGradient>
</defs>
<!-- small gateway -->
<clipPath id="vl"><polygon points="44,81.5 82.5,57.5 104,61.5 84,77 72,86"/></clipPath><clipPath id="vr"><polygon points="146,66 178.6,70.5 150.2,99.5 128,96.5"/></clipPath>
<g>
<polygon points="84.7,57 178.6,70.5 180,113 149,142 39,120 37.2,84.8" fill="#333436"/>
<polygon points="84.7,57 178.6,70.5 150.2,99.5 37.2,84.8" fill="#47484c"/>
<polygon points="150.2,99.5 178.6,70.5 180,113 149,142" fill="#2d2e31"/>
<polygon points="37.2,84.8 150.2,99.5 150,103.5 37.5,88.5" fill="#2e2f31"/>
<polygon points="37.5,88.5 150,103.5 148.4,142 39,120" fill="#3b3b3d"/>
<g clip-path="url(#vl)" stroke="#1e1f22" stroke-width="1.5" stroke-dasharray="13 1.8"><line x1="30" y1="54.7" x2="190" y2="75.5" /><line x1="30" y1="57.8" x2="190" y2="78.6" /><line x1="30" y1="60.9" x2="190" y2="81.7" /><line x1="30" y1="64.0" x2="190" y2="84.8" /><line x1="30" y1="67.1" x2="190" y2="87.9" /><line x1="30" y1="70.2" x2="190" y2="91.0" /><line x1="30" y1="73.3" x2="190" y2="94.1" /><line x1="30" y1="76.4" x2="190" y2="97.2" /><line x1="30" y1="79.5" x2="190" y2="100.3" /><line x1="30" y1="82.6" x2="190" y2="103.4" /><line x1="30" y1="85.7" x2="190" y2="106.5" /><line x1="30" y1="88.8" x2="190" y2="109.6" /></g>
<g clip-path="url(#vr)" stroke="#1e1f22" stroke-width="1.5" stroke-dasharray="13 1.8"><line x1="30" y1="50.7" x2="190" y2="71.5" /><line x1="30" y1="53.8" x2="190" y2="74.6" /><line x1="30" y1="56.9" x2="190" y2="77.7" /><line x1="30" y1="60.0" x2="190" y2="80.8" /><line x1="30" y1="63.1" x2="190" y2="83.9" /><line x1="30" y1="66.2" x2="190" y2="87.0" /><line x1="30" y1="69.3" x2="190" y2="90.1" /><line x1="30" y1="72.4" x2="190" y2="93.2" /><line x1="30" y1="75.5" x2="190" y2="96.3" /><line x1="30" y1="78.6" x2="190" y2="99.4" /><line x1="30" y1="81.7" x2="190" y2="102.5" /><line x1="30" y1="84.8" x2="190" y2="105.6" /><line x1="30" y1="87.9" x2="190" y2="108.7" /><line x1="30" y1="91.0" x2="190" y2="111.8" /></g>
<path d="M84.8 75.8 L102.4 64.3" stroke="#5e5f64" stroke-width="1"/>
<polygon points="98.4,65.9 140.7,71 128,79.7 92,75.5" fill="#38393d" stroke="#2a2b2e" stroke-width="0.7"/>
<path d="M90 84.5 L103 86.5 L106 83.5" stroke="#d8d8d8" stroke-width="1.1" fill="none"/>
<path d="M43.8 82.3 L150.2 99.5" stroke="#e8892a" stroke-width="1.4"/>
<path d="M150 100 L148.5 142" stroke="#d97f26" stroke-width="1.3"/>
<rect x="178.6" y="82" width="5.2" height="14" rx="1" fill="#e0902c"/><rect x="180" y="85" width="2.2" height="8" fill="#f0b060"/>
<polygon points="163.5,96 168,92 168.5,112 164,116" fill="#8a8b8e" opacity="0.55"/><polygon points="169,98.5 173.7,95 173.7,108 169,111" fill="#17181a"/><polygon points="176.5,74.0 178.8,74.5 178.8,77.0 176.5,77.0" fill="#1c1d20"/><polygon points="173.4,77.2 175.8,77.7 175.8,80.2 173.4,80.2" fill="#1c1d20"/><polygon points="170.4,80.4 172.7,80.9 172.7,83.4 170.4,83.4" fill="#1c1d20"/><polygon points="167.3,83.6 169.7,84.1 169.7,86.6 167.3,86.6" fill="#1c1d20"/><polygon points="164.3,86.8 166.6,87.3 166.6,89.8 164.3,89.8" fill="#1c1d20"/><polygon points="161.2,90.0 163.6,90.5 163.6,93.0 161.2,93.0" fill="#1c1d20"/><polygon points="158.2,93.2 160.5,93.7 160.5,96.2 158.2,96.2" fill="#1c1d20"/><polygon points="155.2,96.4 157.5,96.9 157.5,99.4 155.2,99.4" fill="#1c1d20"/>
<polygon points="44,93 70,96.5 70,106 44,102" fill="#343537" stroke="#505154" stroke-width="0.5"/>
<polygon points="42,105 68,108.5 68,112 42,108.5" fill="none" stroke="#85868a" stroke-width="0.7"/><polygon points="42.5,109.5 68,113 68,122 42.5,118.5" fill="#121214"/>
<rect x="44.7" y="112.5" width="2.7" height="3.6" fill="#e82020"/>
<rect x="48.4" y="113.0" width="2.7" height="3.6" fill="#4ccc30"/>
<rect x="52.1" y="113.5" width="2.7" height="3.6" fill="#5ad030"/>
<rect x="55.8" y="114.0" width="2.7" height="3.6" fill="#e6e020"/>
<rect x="59.5" y="114.5" width="2.7" height="3.6" fill="#e6e020"/>
<rect x="63.2" y="115.0" width="2.7" height="3.6" fill="#f0e020"/>
<circle cx="87.5" cy="107.6" r="6.4" fill="url(#bnc)"/><circle cx="87.2" cy="108" r="3.6" fill="#7d7c74"/><circle cx="87.2" cy="108" r="1.8" fill="#9a9990"/>
<circle cx="87.5" cy="121" r="6.4" fill="url(#bnc)"/><circle cx="87.2" cy="121.4" r="3.6" fill="#7d7c74"/><circle cx="87.2" cy="121.4" r="1.8" fill="#9a9990"/>
<polygon points="99.3,111 117.2,113.5 117.2,127.4 99.3,124.9" fill="#2b2c2e" stroke="#a9aaa5" stroke-width="1.3"/>
<polygon points="119.8,115 137.9,117.5 137.9,131.4 119.8,128.9" fill="#2b2c2e" stroke="#a9aaa5" stroke-width="1.3"/>
<rect x="100.3" y="121.8" width="4" height="2.2" fill="#5ad030"/><rect x="112.2" y="123.6" width="4" height="2.2" fill="#f0e020"/>
<rect x="120.8" y="125.8" width="4" height="2.2" fill="#5ad030"/><rect x="132.8" y="127.6" width="4" height="2.2" fill="#f0e020"/>
<path d="M95 106 L140 112 L140 118 M140 124 L140 131" stroke="#9a9b98" stroke-width="0.6" fill="none"/>
</g>
<!-- dashed connector -->
<line x1="132" y1="131" x2="187" y2="185" stroke="#3b9bd8" stroke-width="1.4" stroke-dasharray="3.5 3"/>
<!-- big gateway -->

<g>
<polygon points="190.5,183 340,184 340.5,242 311,265.5 178.4,246 178,197" fill="#333436"/>
<polygon points="190.5,183 340,184 340,190 317.5,215.2 191.8,186.4 178,197" fill="#3c3d41"/>
<polygon points="178,197 191.8,186.4 317.5,215.2 316,222 178.5,204" fill="#4d4e51"/>
<polygon points="178.5,204 316,222 311,265.5 178.4,246" fill="#3d3e40"/>
<polygon points="317.5,215.2 340,188 340.5,242 311,265.5 316,222" fill="#2f3033"/>
<g stroke="#1f2023" stroke-width="1.7" stroke-linecap="round">
<line x1="300" y1="186.5" x2="338" y2="190.5"/><line x1="292" y1="191.5" x2="337" y2="196.5"/><line x1="287" y1="196.5" x2="335" y2="202.5"/><line x1="284" y1="201.5" x2="332" y2="208"/><line x1="287" y1="206.5" x2="328" y2="212.5"/>
</g>
<g stroke="#1f2023" stroke-width="2.2">
<line x1="339" y1="196" x2="322" y2="216"/><line x1="339" y1="206" x2="321" y2="226"/><line x1="339" y1="216" x2="325" y2="232"/>
</g>
<path d="M191.8 186.4 L317.5 215.2" stroke="#e58a2c" stroke-width="1.8"/>
<path d="M317.5 215.2 L315.6 259" stroke="#d98228" stroke-width="2"/>
<path d="M226 184.5 Q240 187 256 188.5 L259 183.5 M252 186 L262 191" stroke="#e8e8e8" stroke-width="2" fill="none"/>
<polygon points="180,199 196,201.5 196,217 180,214.5" fill="#313235" stroke="#525356" stroke-width="0.7"/>
<rect x="179" y="230" width="7" height="11" fill="#141517"/>
<rect x="180.8" y="233" width="3" height="5" fill="#e8e020"/>
<path d="M230 222 L302 238.7 L302 244" stroke="#b8b8b4" stroke-width="0.9" fill="none"/>
<path d="M302 252 L302 262" stroke="#b8b8b4" stroke-width="0.9" fill="none"/>
<circle cx="220.3" cy="220.3" r="9.2" fill="url(#bnc)"/><circle cx="219.5" cy="221" r="5.5" fill="#7d7c74"/><circle cx="219.5" cy="221" r="3" fill="#9a9990"/>
<circle cx="218.6" cy="241.2" r="9.2" fill="url(#bnc)"/><circle cx="218" cy="242" r="5.5" fill="#7d7c74"/><circle cx="218" cy="242" r="3" fill="#9a9990"/>
<polygon points="234.5,227 264.7,233 264.7,253.8 234.5,248" fill="url(#rj)" stroke="#aaaaa6" stroke-width="2.2"/>
<polygon points="266.4,233.7 295.7,239.6 295.7,262.2 266.4,256.4" fill="url(#rj)" stroke="#aaaaa6" stroke-width="2.2"/>
<polygon points="236,245.2 243,246.6 243,249.5 236,248" fill="#56d030"/><polygon points="257,249.5 263.5,250.8 263.5,253.5 257,252.2" fill="#f0e822"/>
<polygon points="267.5,253 274,254.2 274,257 267.5,255.8" fill="#56d030"/><polygon points="288.5,258.2 295,259.5 295,262 288.5,260.8" fill="#f0e822"/>
</g>
<polygon points="190.1,181.4 341,182.5 341.8,242.5 310.8,270.5 190,266.4 173.4,265.5 177.5,196.8" fill="none" stroke="#2f93d6" stroke-width="1.3"/>
<polygon points="191.4,183.6 338.8,184.6 339.6,241.5 309.8,268.2 190,264.2 175.6,263.4 179.6,197.8" fill="none" stroke="#5aaee6" stroke-width="1"/>

<!-- antenna feed thin red -->
<path d="M321 165.5 H216.5 V231" stroke="#c8393c" stroke-width="1.3" fill="none"/>
<!-- thick red -->
<rect x="279" y="249" width="5.2" height="327.5" fill="#c80004"/>
<!-- orange horizontal -->
<rect x="663.4" y="89.6" width="85.8" height="6.6" fill="#f29a3c"/>
<rect x="663.4" y="89.6" width="85.8" height="3" fill="#9a5a35"/>
<!-- orange vertical -->
<rect x="834.6" y="138" width="6.2" height="231.3" fill="#f59b3e"/>
<rect x="838.3" y="138" width="2.5" height="231.3" fill="#8f4e3a"/>

<g>
<line x1="327.8" y1="8" x2="330.2" y2="146" stroke="#454545" stroke-width="1.2"/>
<rect x="326.9" y="4.8" width="2.6" height="8" rx="1" fill="#2a2a2a"/>
<ellipse cx="329.5" cy="110.0" rx="3.6" ry="0.9" fill="none" stroke="#6a6a6a" stroke-width="0.9"/>
<ellipse cx="329.5" cy="112.1" rx="3.6" ry="0.9" fill="none" stroke="#6a6a6a" stroke-width="0.9"/>
<ellipse cx="329.5" cy="114.2" rx="3.6" ry="0.9" fill="none" stroke="#6a6a6a" stroke-width="0.9"/>
<ellipse cx="329.5" cy="116.3" rx="3.6" ry="0.9" fill="none" stroke="#6a6a6a" stroke-width="0.9"/>
<ellipse cx="329.5" cy="118.4" rx="3.6" ry="0.9" fill="none" stroke="#6a6a6a" stroke-width="0.9"/>
<ellipse cx="329.5" cy="120.5" rx="3.6" ry="0.9" fill="none" stroke="#6a6a6a" stroke-width="0.9"/>
<ellipse cx="329.5" cy="122.6" rx="3.6" ry="0.9" fill="none" stroke="#6a6a6a" stroke-width="0.9"/>
<ellipse cx="329.5" cy="124.7" rx="3.6" ry="0.9" fill="none" stroke="#6a6a6a" stroke-width="0.9"/>
<path d="M328.6 144 C328.6 151 327.5 155 324.5 158 C321 160.5 320 166 323.5 167.3 L336.5 167.3 C340 166 339.5 160.5 335.5 158 C332.5 155 331.4 151 331.4 144 Z" fill="#161616"/>
<ellipse cx="330" cy="162" rx="8" ry="2.6" fill="#262626"/>
</g>
<path d="M390.1 11.9 Q407.4 43.8 374.8 68.5" fill="none" stroke="#6464ad" stroke-width="1.8" stroke-linecap="round"/>
<path d="M383.2 15.9 Q398.4 42.2 371.3 62.5" fill="none" stroke="#6464ad" stroke-width="1.8" stroke-linecap="round"/>
<path d="M376.7 19.9 Q388.0 40.2 367.3 56.1" fill="none" stroke="#6464ad" stroke-width="1.8" stroke-linecap="round"/>
<path d="M370.3 23.8 Q377.6 38.3 363.4 49.6" fill="none" stroke="#6464ad" stroke-width="1.8" stroke-linecap="round"/>
<path d="M363.4 28.3 Q368.8 36.6 359.4 43.2" fill="none" stroke="#6464ad" stroke-width="1.8" stroke-linecap="round"/>
<path d="M356.4 31.3 Q358.8 34.3 355.4 36.7" fill="none" stroke="#6464ad" stroke-width="1.8" stroke-linecap="round"/>
<path d="M597.3 21.3 Q602.3 26.8 597.3 32.3" fill="none" stroke="#cbd5c7" stroke-width="1.4"/>
<path d="M583.3 21.3 Q578.3 26.8 583.3 32.3" fill="none" stroke="#cbd5c7" stroke-width="1.4"/>
<path d="M601.6 16.3 Q610.6 26.8 601.6 37.3" fill="none" stroke="#cbd5c7" stroke-width="1.4"/>
<path d="M579.0 16.3 Q570.0 26.8 579.0 37.3" fill="none" stroke="#cbd5c7" stroke-width="1.4"/>
<path d="M608.0 12.3 Q621.0 26.8 608.0 41.3" fill="none" stroke="#cbd5c7" stroke-width="1.4"/>
<path d="M572.6 12.3 Q559.6 26.8 572.6 41.3" fill="none" stroke="#cbd5c7" stroke-width="1.4"/>
<polygon points="590.3,19.5 592.3,37 588.5,37" fill="#c2d0e0"/><polygon points="590.3,19.5 590.3,37 588.5,37" fill="#a9bbd0"/>
<rect x="587.6" y="36.8" width="7.1" height="11.5" fill="#d5dfeb"/><rect x="587.6" y="36.8" width="2.3" height="11.5" fill="#a9bbd0"/>
<rect x="583.3" y="47.7" width="15.4" height="13.5" fill="#d5dfeb"/><rect x="583.3" y="47.7" width="4" height="13.5" fill="#a9bbd0"/>
<polygon points="574.4,60 603,60 609.1,63 609.1,64.5 585,65.5 574.4,62" fill="#d5dfeb" stroke="#a9bbd0" stroke-width="0.6"/>
<rect x="582.8" y="65" width="18.4" height="2.5" fill="#9ea39f"/>
<polygon points="574.4,67 603,67 609.1,69.5 609.1,71.8 585,72 574.4,69.5" fill="#d5dfeb" stroke="#a9bbd0" stroke-width="0.6"/>
<rect x="580.5" y="105.7" width="22.0" height="2.4" fill="#d5dfeb" stroke="#a9bbd0" stroke-width="0.5"/>
<rect x="578" y="121.6" width="28.5" height="2.8" fill="#d5dfeb" stroke="#a9bbd0" stroke-width="0.5"/>
<rect x="575" y="138.6" width="36.5" height="3.4" fill="#d5dfeb" stroke="#a9bbd0" stroke-width="0.5"/>
<rect x="571.5" y="155.6" width="46.5" height="3.8" fill="#d5dfeb" stroke="#a9bbd0" stroke-width="0.5"/>
<rect x="579" y="171.9" width="47.0" height="3.8" fill="#d5dfeb" stroke="#a9bbd0" stroke-width="0.5"/>
<line x1="581" y1="107" x2="602" y2="123" stroke="#c2d0e0" stroke-width="1.2"/>
<line x1="602" y1="107" x2="578" y2="123" stroke="#c2d0e0" stroke-width="1.2"/>
<line x1="578" y1="123" x2="606" y2="140" stroke="#c2d0e0" stroke-width="1.2"/>
<line x1="606" y1="123" x2="576" y2="140" stroke="#c2d0e0" stroke-width="1.2"/>
<line x1="575.5" y1="140" x2="611" y2="157" stroke="#c2d0e0" stroke-width="1.2"/>
<line x1="611" y1="140" x2="572" y2="157" stroke="#c2d0e0" stroke-width="1.2"/>
<line x1="572" y1="157" x2="618" y2="173.5" stroke="#c2d0e0" stroke-width="1.2"/>
<line x1="618" y1="157" x2="579" y2="173.5" stroke="#c2d0e0" stroke-width="1.2"/>
<line x1="553" y1="166" x2="578" y2="181" stroke="#c2d0e0" stroke-width="1.2"/><line x1="579" y1="176" x2="626" y2="168" stroke="#c2d0e0" stroke-width="1.2"/>
<path d="M593.5 71.5 Q599 120 605.5 164 L609.8 163 Q603.5 120 597.5 71.5 Z" fill="#a9bbd0"/>
<path d="M581.5 71.5 Q578 135 546.5 169.5 L550.5 174 Q583.5 138 586.5 71.5 Z" fill="#d5dfeb"/>
<path d="M581.5 71.5 Q578 135 546.5 169.5 L548 171 Q580 137 583 71.5 Z" fill="#a9bbd0"/>
<path d="M596 71.5 Q604 140 634.5 184 L640 181 Q611 140 601.5 71.5 Z" fill="#d5dfeb" stroke="#a9bbd0" stroke-width="0.6"/>
<path d="M586.5 71.5 L569.5 189.5 L575.5 190.5 L592.5 71.5 Z" fill="#d5dfeb"/>
<path d="M586.5 71.5 L569.5 189.5 L572 189.8 L588.5 71.5 Z" fill="#a9bbd0"/>
<defs><linearGradient id="cg" gradientUnits="userSpaceOnUse" x1="762" x2="912" y1="0" y2="0"><stop offset="0" stop-color="#c9d9df"/><stop offset="0.3" stop-color="#eef3f5"/><stop offset="0.55" stop-color="#ffffff"/><stop offset="0.8" stop-color="#eef2f4"/><stop offset="1" stop-color="#d5e0e4"/></linearGradient></defs>
<g fill="#a39a80"><circle cx="835.8" cy="68.8" r="28.5"/><circle cx="793.1999999999999" cy="71.8" r="19"/><circle cx="777.8" cy="93.8" r="15.5"/><circle cx="793.1999999999999" cy="114.3" r="19"/><circle cx="834.5999999999999" cy="122.8" r="21.5"/><circle cx="877.6999999999999" cy="117.8" r="19"/><circle cx="898.8" cy="95.6" r="14"/><circle cx="879.4" cy="71.8" r="17.5"/><ellipse cx="836.8" cy="92.8" rx="58" ry="33"/></g>
<g fill="#a3bcc6"><circle cx="834" cy="67" r="28.9"/><circle cx="791.4" cy="70" r="19.4"/><circle cx="776" cy="92" r="15.9"/><circle cx="791.4" cy="112.5" r="19.4"/><circle cx="832.8" cy="121" r="21.9"/><circle cx="875.9" cy="116" r="19.4"/><circle cx="897" cy="93.8" r="14.4"/><circle cx="877.6" cy="70" r="17.9"/><ellipse cx="835" cy="91" rx="58" ry="33"/></g>
<g fill="#bfd1d8"><circle cx="834" cy="67" r="27.5"/><circle cx="791.4" cy="70" r="18"/><circle cx="776" cy="92" r="14.5"/><circle cx="791.4" cy="112.5" r="18"/><circle cx="832.8" cy="121" r="20.5"/><circle cx="875.9" cy="116" r="18"/><circle cx="897" cy="93.8" r="13"/><circle cx="877.6" cy="70" r="16.5"/><ellipse cx="835" cy="91" rx="58" ry="32"/></g>
<g fill="url(#cg)"><circle cx="834" cy="67" r="26.5"/><circle cx="791.4" cy="70" r="17"/><circle cx="776" cy="92" r="13.5"/><circle cx="791.4" cy="112.5" r="17"/><circle cx="832.8" cy="121" r="19.5"/><circle cx="875.9" cy="116" r="17"/><circle cx="897" cy="93.8" r="12"/><circle cx="877.6" cy="70" r="15.5"/><ellipse cx="835" cy="91" rx="58" ry="31"/></g>
<defs>
<linearGradient id="tw" x1="0" x2="1" y1="0" y2="0"><stop offset="0" stop-color="#222"/><stop offset="0.22" stop-color="#383838"/><stop offset="0.42" stop-color="#2c2c2c"/><stop offset="0.52" stop-color="#252525"/><stop offset="0.75" stop-color="#363636"/><stop offset="1" stop-color="#222"/></linearGradient>
<linearGradient id="bz" x1="0" x2="0" y1="0" y2="1"><stop offset="0" stop-color="#474747"/><stop offset="0.6" stop-color="#3e3e3e"/><stop offset="1" stop-color="#2a2a2a"/></linearGradient>
<linearGradient id="nk" x1="0" x2="1" y1="0" y2="0"><stop offset="0" stop-color="#1a1a1a"/><stop offset="0.5" stop-color="#3a3a3a"/><stop offset="1" stop-color="#1a1a1a"/></linearGradient>
<linearGradient id="kb" x1="0" x2="0" y1="0" y2="1"><stop offset="0" stop-color="#4a4a4a"/><stop offset="0.68" stop-color="#505050"/><stop offset="0.72" stop-color="#c5caca"/><stop offset="0.9" stop-color="#9aa0a0"/><stop offset="1" stop-color="#555"/></linearGradient>
<radialGradient id="ms" cx="0.55" cy="0.4" r="0.6"><stop offset="0" stop-color="#b8c8d8"/><stop offset="0.3" stop-color="#7a7f85"/><stop offset="1" stop-color="#3f4245"/></radialGradient>
</defs>
<rect x="656.3" y="391.9" width="96.7" height="213.4" rx="1.5" fill="#111"/>
<rect x="658" y="393.5" width="93.3" height="210" fill="url(#tw)"/>
<polygon points="712,399.4 730,399.4 712,598.5 704.7,598.5 704.7,470" fill="#3a3a3a" opacity="0.55"/><rect x="668" y="399.4" width="10" height="199" fill="#3a3a3a" opacity="0.5"/>
<rect x="662.5" y="399.4" width="83.7" height="199.1" fill="none" stroke="#8c8c8c" stroke-width="0.9"/>
<line x1="704.7" y1="399.4" x2="704.7" y2="598.5" stroke="#8c8c8c" stroke-width="0.9"/>
<line x1="662.5" y1="526.4" x2="704.7" y2="526.4" stroke="#8c8c8c" stroke-width="0.9"/>
<circle cx="727.1" cy="529.8" r="7.3" fill="#a6a6a6"/><circle cx="727.1" cy="529.8" r="5.8" fill="#1a1a1a"/><circle cx="727.1" cy="529.8" r="3.2" fill="none" stroke="#e0451c" stroke-width="1.3"/><line x1="727.1" y1="526" x2="727.1" y2="529" stroke="#e0451c" stroke-width="1.2"/>
<rect x="768" y="380.2" width="232.8" height="168.8" rx="2.5" fill="url(#bz)"/>
<rect x="779.4" y="392.9" width="208.8" height="145.3" fill="#ece9d8"/>
<rect x="779.4" y="392.4" width="208.8" height="5.4" fill="#1550d0"/><rect x="786" y="393.8" width="90" height="2.2" fill="#c8d4f4" opacity="0.55"/>

<rect x="976" y="393.3" width="4" height="3.8" fill="#4a80e8"/><rect x="981" y="393.3" width="6" height="3.8" fill="#d85030"/>
<rect x="779.4" y="397.8" width="208.8" height="3.7" fill="#f1efe2"/><rect x="782" y="399" width="50" height="1.3" fill="#777" opacity="0.7"/>
<rect x="779.4" y="401.2" width="208.8" height="6.5" fill="#e4e1d0"/>
<rect x="781" y="402.3" width="45" height="4.5" fill="#7a7a6a" opacity="0.55"/><rect x="795" y="403" width="3" height="3" fill="#c83030"/><rect x="803" y="403" width="3" height="3" fill="#30a050"/>
<rect x="780" y="408.5" width="38" height="123" fill="#ffffff" stroke="#8e8e8e" stroke-width="0.6"/>
<rect x="782" y="411.0" width="2" height="2.2" fill="#d0a030"/><rect x="785" y="411.4" width="16.8" height="1.5" fill="#1a1a1a" opacity="0.72"/>
<rect x="782" y="414.6" width="2" height="2.2" fill="#d0a030"/><rect x="785" y="415.0" width="21.7" height="1.5" fill="#1a1a1a" opacity="0.72"/>
<rect x="782" y="418.2" width="2" height="2.2" fill="#d0a030"/><rect x="785" y="418.59999999999997" width="18.9" height="1.5" fill="#1a1a1a" opacity="0.72"/>
<rect x="784" y="421.8" width="2" height="2.2" fill="#d0a030"/><rect x="787" y="422.2" width="20.7" height="1.5" fill="#1a1a1a" opacity="0.72"/>
<rect x="784" y="425.4" width="2" height="2.2" fill="#d0a030"/><rect x="787" y="425.79999999999995" width="21.0" height="1.5" fill="#1a1a1a" opacity="0.72"/>
<rect x="784" y="429.0" width="2" height="2.2" fill="#d0a030"/><rect x="787" y="429.4" width="12.0" height="1.5" fill="#1a1a1a" opacity="0.72"/>
<rect x="784" y="432.6" width="2" height="2.2" fill="#d0a030"/><rect x="787" y="433.0" width="11.2" height="1.5" fill="#1a1a1a" opacity="0.72"/>
<rect x="784" y="436.2" width="2" height="2.2" fill="#d0a030"/><rect x="787" y="436.59999999999997" width="24.4" height="1.5" fill="#1a1a1a" opacity="0.72"/>
<rect x="784" y="439.8" width="2" height="2.2" fill="#d0a030"/><rect x="787" y="440.2" width="15.1" height="1.5" fill="#1a1a1a" opacity="0.72"/>
<rect x="784" y="443.4" width="2" height="2.2" fill="#d0a030"/><rect x="787" y="443.79999999999995" width="14.7" height="1.5" fill="#1a1a1a" opacity="0.72"/>
<rect x="784" y="447.0" width="2" height="2.2" fill="#d0a030"/><rect x="787" y="447.4" width="26.9" height="1.5" fill="#1a1a1a" opacity="0.72"/>
<rect x="782" y="450.6" width="2" height="2.2" fill="#d0a030"/><rect x="785" y="451.0" width="20.5" height="1.5" fill="#1a1a1a" opacity="0.72"/>
<rect x="785" y="454.2" width="2" height="2.2" fill="#d0a030"/><rect x="788" y="454.59999999999997" width="23.4" height="1.5" fill="#1a1a1a" opacity="0.72"/>
<rect x="785" y="457.8" width="2" height="2.2" fill="#d0a030"/><rect x="788" y="458.2" width="17.6" height="1.5" fill="#1a1a1a" opacity="0.72"/>
<rect x="785" y="461.4" width="2" height="2.2" fill="#d0a030"/><rect x="788" y="461.79999999999995" width="20.2" height="1.5" fill="#1a1a1a" opacity="0.72"/>
<rect x="785" y="465.0" width="2" height="2.2" fill="#d0a030"/><rect x="788" y="465.4" width="12.4" height="1.5" fill="#1a1a1a" opacity="0.72"/>
<rect x="782" y="468.6" width="2" height="2.2" fill="#d0a030"/><rect x="785" y="469.0" width="23.2" height="1.5" fill="#1a1a1a" opacity="0.72"/>
<rect x="782" y="472.2" width="2" height="2.2" fill="#d0a030"/><rect x="785" y="472.59999999999997" width="26.9" height="1.5" fill="#1a1a1a" opacity="0.72"/>
<rect x="782" y="475.8" width="2" height="2.2" fill="#d0a030"/><rect x="785" y="476.2" width="21.4" height="1.5" fill="#1a1a1a" opacity="0.72"/>
<rect x="782" y="479.4" width="2" height="2.2" fill="#d0a030"/><rect x="785" y="479.79999999999995" width="24.9" height="1.5" fill="#1a1a1a" opacity="0.72"/>
<rect x="782" y="483.0" width="2" height="2.2" fill="#d0a030"/><rect x="785" y="483.4" width="23.7" height="1.5" fill="#1a1a1a" opacity="0.72"/>
<rect x="782" y="486.6" width="2" height="2.2" fill="#d0a030"/><rect x="785" y="487.0" width="14.0" height="1.5" fill="#1a1a1a" opacity="0.72"/>
<rect x="782" y="490.2" width="2" height="2.2" fill="#d0a030"/><rect x="785" y="490.59999999999997" width="25.1" height="1.5" fill="#1a1a1a" opacity="0.72"/>
<rect x="782" y="493.8" width="2" height="2.2" fill="#d0a030"/><rect x="785" y="494.2" width="22.5" height="1.5" fill="#1a1a1a" opacity="0.72"/>
<rect x="782" y="497.4" width="2" height="2.2" fill="#d0a030"/><rect x="785" y="497.79999999999995" width="17.8" height="1.5" fill="#1a1a1a" opacity="0.72"/>
<rect x="782" y="501.0" width="2" height="2.2" fill="#d0a030"/><rect x="785" y="501.4" width="13.5" height="1.5" fill="#1a1a1a" opacity="0.72"/>
<rect x="789" y="457" width="28" height="3" fill="#3060c0"/>
<rect x="781" y="524" width="36" height="6" fill="#d8d5c8"/>
<rect x="819" y="407.7" width="47" height="108" fill="#ffffff" stroke="#9a9a9a" stroke-width="0.5"/>
<rect x="867.6" y="407.7" width="120" height="107.5" fill="#ecebdc" stroke="#a8a8a0" stroke-width="0.5"/>
<rect x="880" y="423.5" width="34" height="1.2" fill="#707070"/><rect x="880" y="427.5" width="34" height="1.2" fill="#b0b0b0"/><rect x="880" y="432" width="34" height="1.2" fill="#707070"/>
<rect x="926" y="423" width="2" height="2" fill="#333"/><rect x="926" y="427" width="2" height="2" fill="#aaa"/><rect x="926" y="431.5" width="2" height="2" fill="#333"/>
<rect x="819" y="517" width="169" height="15" fill="#ffffff" stroke="#9a9a9a" stroke-width="0.5"/>
<rect x="820" y="528.5" width="168" height="2.5" fill="#c8d8f0"/>
<rect x="779.4" y="533" width="208.8" height="5.2" fill="#ece9d8"/>
<rect x="828.6" y="401.7" width="59.2" height="96" fill="#ffffff" stroke="#8a8a8a" stroke-width="0.6"/>
<rect x="829.5" y="402" width="58" height="2.2" fill="#1d5ee6" opacity="0.0"/>
<rect x="832" y="404.0" width="16.9" height="1.2" fill="#a8a8a8"/><rect x="868" y="404.0" width="12" height="1.2" fill="#b8b8b8"/>
<rect x="832" y="408.3" width="13.8" height="1.2" fill="#a8a8a8"/><rect x="868" y="408.3" width="12" height="1.2" fill="#b8b8b8"/>
<rect x="832" y="412.6" width="15.8" height="1.2" fill="#a8a8a8"/><rect x="868" y="412.6" width="12" height="1.2" fill="#b8b8b8"/>
<rect x="832" y="416.9" width="17.0" height="1.2" fill="#a8a8a8"/><rect x="868" y="416.9" width="12" height="1.2" fill="#b8b8b8"/>
<rect x="832" y="421.2" width="15.7" height="1.2" fill="#a8a8a8"/><rect x="868" y="421.2" width="12" height="1.2" fill="#b8b8b8"/>
<rect x="832" y="425.5" width="17.4" height="1.2" fill="#a8a8a8"/><rect x="868" y="425.5" width="12" height="1.2" fill="#b8b8b8"/>
<rect x="832" y="429.8" width="13.2" height="1.2" fill="#a8a8a8"/><rect x="868" y="429.8" width="12" height="1.2" fill="#b8b8b8"/>
<rect x="832" y="434.1" width="16.4" height="1.2" fill="#a8a8a8"/><rect x="868" y="434.1" width="12" height="1.2" fill="#b8b8b8"/>
<rect x="832" y="438.4" width="13.6" height="1.2" fill="#a8a8a8"/><rect x="868" y="438.4" width="12" height="1.2" fill="#b8b8b8"/>
<rect x="832" y="442.7" width="17.5" height="1.2" fill="#a8a8a8"/><rect x="868" y="442.7" width="12" height="1.2" fill="#b8b8b8"/>
<rect x="832" y="447.0" width="17.0" height="1.2" fill="#a8a8a8"/><rect x="868" y="447.0" width="12" height="1.2" fill="#b8b8b8"/>
<rect x="832" y="451.3" width="10.8" height="1.2" fill="#a8a8a8"/><rect x="868" y="451.3" width="12" height="1.2" fill="#b8b8b8"/>
<rect x="832" y="455.6" width="11.1" height="1.2" fill="#a8a8a8"/><rect x="868" y="455.6" width="12" height="1.2" fill="#b8b8b8"/>
<rect x="832" y="459.9" width="11.7" height="1.2" fill="#a8a8a8"/><rect x="868" y="459.9" width="12" height="1.2" fill="#b8b8b8"/>
<rect x="832" y="464.2" width="17.7" height="1.2" fill="#a8a8a8"/><rect x="868" y="464.2" width="12" height="1.2" fill="#b8b8b8"/>
<rect x="832" y="468.5" width="13.5" height="1.2" fill="#a8a8a8"/><rect x="868" y="468.5" width="12" height="1.2" fill="#b8b8b8"/>
<rect x="832" y="472.8" width="15.0" height="1.2" fill="#a8a8a8"/><rect x="868" y="472.8" width="12" height="1.2" fill="#b8b8b8"/>
<rect x="832" y="477.1" width="12.4" height="1.2" fill="#a8a8a8"/><rect x="868" y="477.1" width="12" height="1.2" fill="#b8b8b8"/>
<rect x="832" y="481.4" width="14.1" height="1.2" fill="#a8a8a8"/><rect x="868" y="481.4" width="12" height="1.2" fill="#b8b8b8"/>
<rect x="832" y="485.7" width="13.1" height="1.2" fill="#a8a8a8"/><rect x="868" y="485.7" width="12" height="1.2" fill="#b8b8b8"/>
<rect x="832" y="490.0" width="12.8" height="1.2" fill="#a8a8a8"/><rect x="868" y="490.0" width="12" height="1.2" fill="#b8b8b8"/>
<rect x="832" y="494.3" width="14.7" height="1.2" fill="#a8a8a8"/><rect x="868" y="494.3" width="12" height="1.2" fill="#b8b8b8"/>
<rect x="829" y="478.3" width="58.5" height="3.2" fill="#2c5cc8"/>
<rect x="872" y="548.5" width="24.6" height="24" fill="url(#nk)"/>
<ellipse cx="883" cy="576" rx="70" ry="8.5" fill="#202020"/>
<ellipse cx="883" cy="573.8" rx="69" ry="7" fill="#383838"/>
<rect x="872" y="565" width="24.6" height="7.5" fill="url(#nk)"/>
<path d="M787 593.5 L991 593.5 Q995 593.5 996 597 L999.5 610.5 Q1000 615 995 615 L784 615 Q779.5 615 780.5 610.5 L783 597 Q784 593.5 787 593.5 Z" fill="#3a3a3a"/>
<path d="M781 609 L999 609 L999.6 611.5 Q1000 615 995 615 L784 615 Q779.5 615 780.4 611.5 Z" fill="#b3b9b9"/>
<rect x="782" y="613" width="216" height="2" fill="#6a7070"/>
<rect x="785.5" y="594.8" width="7.7" height="3.1" rx="0.6" fill="#585858"/><rect x="785.5" y="594.8" width="7.7" height="0.9" fill="#a4a4a4"/>
<rect x="794.5" y="594.8" width="7.7" height="3.1" rx="0.6" fill="#585858"/><rect x="794.5" y="594.8" width="7.7" height="0.9" fill="#a4a4a4"/>
<rect x="803.5" y="594.8" width="7.7" height="3.1" rx="0.6" fill="#585858"/><rect x="803.5" y="594.8" width="7.7" height="0.9" fill="#a4a4a4"/>
<rect x="812.5" y="594.8" width="7.7" height="3.1" rx="0.6" fill="#585858"/><rect x="812.5" y="594.8" width="7.7" height="0.9" fill="#a4a4a4"/>
<rect x="821.5" y="594.8" width="7.7" height="3.1" rx="0.6" fill="#585858"/><rect x="821.5" y="594.8" width="7.7" height="0.9" fill="#a4a4a4"/>
<rect x="830.5" y="594.8" width="7.7" height="3.1" rx="0.6" fill="#585858"/><rect x="830.5" y="594.8" width="7.7" height="0.9" fill="#a4a4a4"/>
<rect x="839.5" y="594.8" width="7.7" height="3.1" rx="0.6" fill="#585858"/><rect x="839.5" y="594.8" width="7.7" height="0.9" fill="#a4a4a4"/>
<rect x="848.5" y="594.8" width="7.7" height="3.1" rx="0.6" fill="#585858"/><rect x="848.5" y="594.8" width="7.7" height="0.9" fill="#a4a4a4"/>
<rect x="857.5" y="594.8" width="7.7" height="3.1" rx="0.6" fill="#585858"/><rect x="857.5" y="594.8" width="7.7" height="0.9" fill="#a4a4a4"/>
<rect x="866.5" y="594.8" width="7.7" height="3.1" rx="0.6" fill="#585858"/><rect x="866.5" y="594.8" width="7.7" height="0.9" fill="#a4a4a4"/>
<rect x="875.5" y="594.8" width="7.7" height="3.1" rx="0.6" fill="#585858"/><rect x="875.5" y="594.8" width="7.7" height="0.9" fill="#a4a4a4"/>
<rect x="884.5" y="594.8" width="7.7" height="3.1" rx="0.6" fill="#585858"/><rect x="884.5" y="594.8" width="7.7" height="0.9" fill="#a4a4a4"/>
<rect x="893.5" y="594.8" width="7.7" height="3.1" rx="0.6" fill="#585858"/><rect x="893.5" y="594.8" width="7.7" height="0.9" fill="#a4a4a4"/>
<rect x="902.5" y="594.8" width="15.7" height="3.1" rx="0.6" fill="#585858"/><rect x="902.5" y="594.8" width="15.7" height="0.9" fill="#a4a4a4"/>
<rect x="923.0" y="594.8" width="8.7" height="3.1" rx="0.6" fill="#585858"/><rect x="923.0" y="594.8" width="8.7" height="0.9" fill="#a4a4a4"/>
<rect x="933.0" y="594.8" width="8.7" height="3.1" rx="0.6" fill="#585858"/><rect x="933.0" y="594.8" width="8.7" height="0.9" fill="#a4a4a4"/>
<rect x="943.0" y="594.8" width="8.7" height="3.1" rx="0.6" fill="#585858"/><rect x="943.0" y="594.8" width="8.7" height="0.9" fill="#a4a4a4"/>
<rect x="956.0" y="594.8" width="8.3" height="3.1" rx="0.6" fill="#585858"/><rect x="956.0" y="594.8" width="8.3" height="0.9" fill="#a4a4a4"/>
<rect x="965.6" y="594.8" width="8.3" height="3.1" rx="0.6" fill="#585858"/><rect x="965.6" y="594.8" width="8.3" height="0.9" fill="#a4a4a4"/>
<rect x="975.2" y="594.8" width="8.3" height="3.1" rx="0.6" fill="#585858"/><rect x="975.2" y="594.8" width="8.3" height="0.9" fill="#a4a4a4"/>
<rect x="984.8" y="594.8" width="8.3" height="3.1" rx="0.6" fill="#585858"/><rect x="984.8" y="594.8" width="8.3" height="0.9" fill="#a4a4a4"/>
<rect x="785.5" y="598.4" width="10.7" height="3.1" rx="0.6" fill="#585858"/><rect x="785.5" y="598.4" width="10.7" height="0.9" fill="#a4a4a4"/>
<rect x="797.5" y="598.4" width="7.7" height="3.1" rx="0.6" fill="#585858"/><rect x="797.5" y="598.4" width="7.7" height="0.9" fill="#a4a4a4"/>
<rect x="806.5" y="598.4" width="7.7" height="3.1" rx="0.6" fill="#585858"/><rect x="806.5" y="598.4" width="7.7" height="0.9" fill="#a4a4a4"/>
<rect x="815.5" y="598.4" width="7.7" height="3.1" rx="0.6" fill="#585858"/><rect x="815.5" y="598.4" width="7.7" height="0.9" fill="#a4a4a4"/>
<rect x="824.5" y="598.4" width="7.7" height="3.1" rx="0.6" fill="#585858"/><rect x="824.5" y="598.4" width="7.7" height="0.9" fill="#a4a4a4"/>
<rect x="833.5" y="598.4" width="7.7" height="3.1" rx="0.6" fill="#585858"/><rect x="833.5" y="598.4" width="7.7" height="0.9" fill="#a4a4a4"/>
<rect x="842.5" y="598.4" width="7.7" height="3.1" rx="0.6" fill="#585858"/><rect x="842.5" y="598.4" width="7.7" height="0.9" fill="#a4a4a4"/>
<rect x="851.5" y="598.4" width="7.7" height="3.1" rx="0.6" fill="#585858"/><rect x="851.5" y="598.4" width="7.7" height="0.9" fill="#a4a4a4"/>
<rect x="860.5" y="598.4" width="7.7" height="3.1" rx="0.6" fill="#585858"/><rect x="860.5" y="598.4" width="7.7" height="0.9" fill="#a4a4a4"/>
<rect x="869.5" y="598.4" width="7.7" height="3.1" rx="0.6" fill="#585858"/><rect x="869.5" y="598.4" width="7.7" height="0.9" fill="#a4a4a4"/>
<rect x="878.5" y="598.4" width="7.7" height="3.1" rx="0.6" fill="#585858"/><rect x="878.5" y="598.4" width="7.7" height="0.9" fill="#a4a4a4"/>
<rect x="887.5" y="598.4" width="7.7" height="3.1" rx="0.6" fill="#585858"/><rect x="887.5" y="598.4" width="7.7" height="0.9" fill="#a4a4a4"/>
<rect x="896.5" y="598.4" width="7.7" height="3.1" rx="0.6" fill="#585858"/><rect x="896.5" y="598.4" width="7.7" height="0.9" fill="#a4a4a4"/>
<rect x="905.5" y="598.4" width="12.7" height="3.1" rx="0.6" fill="#585858"/><rect x="905.5" y="598.4" width="12.7" height="0.9" fill="#a4a4a4"/>
<rect x="923.0" y="598.4" width="8.7" height="3.1" rx="0.6" fill="#585858"/><rect x="923.0" y="598.4" width="8.7" height="0.9" fill="#a4a4a4"/>
<rect x="933.0" y="598.4" width="8.7" height="3.1" rx="0.6" fill="#585858"/><rect x="933.0" y="598.4" width="8.7" height="0.9" fill="#a4a4a4"/>
<rect x="943.0" y="598.4" width="8.7" height="3.1" rx="0.6" fill="#585858"/><rect x="943.0" y="598.4" width="8.7" height="0.9" fill="#a4a4a4"/>
<rect x="956.0" y="598.4" width="8.3" height="3.1" rx="0.6" fill="#585858"/><rect x="956.0" y="598.4" width="8.3" height="0.9" fill="#a4a4a4"/>
<rect x="965.6" y="598.4" width="8.3" height="3.1" rx="0.6" fill="#585858"/><rect x="965.6" y="598.4" width="8.3" height="0.9" fill="#a4a4a4"/>
<rect x="975.2" y="598.4" width="8.3" height="3.1" rx="0.6" fill="#585858"/><rect x="975.2" y="598.4" width="8.3" height="0.9" fill="#a4a4a4"/>
<rect x="984.8" y="598.4" width="8.3" height="3.1" rx="0.6" fill="#585858"/><rect x="984.8" y="598.4" width="8.3" height="0.9" fill="#a4a4a4"/>
<rect x="785.5" y="602" width="12.7" height="3.1" rx="0.6" fill="#585858"/><rect x="785.5" y="602" width="12.7" height="0.9" fill="#a4a4a4"/>
<rect x="799.5" y="602" width="7.7" height="3.1" rx="0.6" fill="#585858"/><rect x="799.5" y="602" width="7.7" height="0.9" fill="#a4a4a4"/>
<rect x="808.5" y="602" width="7.7" height="3.1" rx="0.6" fill="#585858"/><rect x="808.5" y="602" width="7.7" height="0.9" fill="#a4a4a4"/>
<rect x="817.5" y="602" width="7.7" height="3.1" rx="0.6" fill="#585858"/><rect x="817.5" y="602" width="7.7" height="0.9" fill="#a4a4a4"/>
<rect x="826.5" y="602" width="7.7" height="3.1" rx="0.6" fill="#585858"/><rect x="826.5" y="602" width="7.7" height="0.9" fill="#a4a4a4"/>
<rect x="835.5" y="602" width="7.7" height="3.1" rx="0.6" fill="#585858"/><rect x="835.5" y="602" width="7.7" height="0.9" fill="#a4a4a4"/>
<rect x="844.5" y="602" width="7.7" height="3.1" rx="0.6" fill="#585858"/><rect x="844.5" y="602" width="7.7" height="0.9" fill="#a4a4a4"/>
<rect x="853.5" y="602" width="7.7" height="3.1" rx="0.6" fill="#585858"/><rect x="853.5" y="602" width="7.7" height="0.9" fill="#a4a4a4"/>
<rect x="862.5" y="602" width="7.7" height="3.1" rx="0.6" fill="#585858"/><rect x="862.5" y="602" width="7.7" height="0.9" fill="#a4a4a4"/>
<rect x="871.5" y="602" width="7.7" height="3.1" rx="0.6" fill="#585858"/><rect x="871.5" y="602" width="7.7" height="0.9" fill="#a4a4a4"/>
<rect x="880.5" y="602" width="7.7" height="3.1" rx="0.6" fill="#585858"/><rect x="880.5" y="602" width="7.7" height="0.9" fill="#a4a4a4"/>
<rect x="889.5" y="602" width="7.7" height="3.1" rx="0.6" fill="#585858"/><rect x="889.5" y="602" width="7.7" height="0.9" fill="#a4a4a4"/>
<rect x="898.5" y="602" width="19.7" height="3.1" rx="0.6" fill="#585858"/><rect x="898.5" y="602" width="19.7" height="0.9" fill="#a4a4a4"/>
<rect x="956.0" y="602" width="8.3" height="3.1" rx="0.6" fill="#585858"/><rect x="956.0" y="602" width="8.3" height="0.9" fill="#a4a4a4"/>
<rect x="965.6" y="602" width="8.3" height="3.1" rx="0.6" fill="#585858"/><rect x="965.6" y="602" width="8.3" height="0.9" fill="#a4a4a4"/>
<rect x="975.2" y="602" width="8.3" height="3.1" rx="0.6" fill="#585858"/><rect x="975.2" y="602" width="8.3" height="0.9" fill="#a4a4a4"/>
<rect x="984.8" y="602" width="8.3" height="3.1" rx="0.6" fill="#585858"/><rect x="984.8" y="602" width="8.3" height="0.9" fill="#a4a4a4"/>
<rect x="785.5" y="605.6" width="16.7" height="3.1" rx="0.6" fill="#585858"/><rect x="785.5" y="605.6" width="16.7" height="0.9" fill="#a4a4a4"/>
<rect x="803.5" y="605.6" width="7.7" height="3.1" rx="0.6" fill="#585858"/><rect x="803.5" y="605.6" width="7.7" height="0.9" fill="#a4a4a4"/>
<rect x="812.5" y="605.6" width="7.7" height="3.1" rx="0.6" fill="#585858"/><rect x="812.5" y="605.6" width="7.7" height="0.9" fill="#a4a4a4"/>
<rect x="821.5" y="605.6" width="60.7" height="3.1" rx="0.6" fill="#585858"/><rect x="821.5" y="605.6" width="60.7" height="0.9" fill="#a4a4a4"/>
<rect x="883.5" y="605.6" width="7.7" height="3.1" rx="0.6" fill="#585858"/><rect x="883.5" y="605.6" width="7.7" height="0.9" fill="#a4a4a4"/>
<rect x="892.5" y="605.6" width="7.7" height="3.1" rx="0.6" fill="#585858"/><rect x="892.5" y="605.6" width="7.7" height="0.9" fill="#a4a4a4"/>
<rect x="901.5" y="605.6" width="7.7" height="3.1" rx="0.6" fill="#585858"/><rect x="901.5" y="605.6" width="7.7" height="0.9" fill="#a4a4a4"/>
<rect x="910.5" y="605.6" width="25.7" height="3.1" rx="0.6" fill="#585858"/><rect x="910.5" y="605.6" width="25.7" height="0.9" fill="#a4a4a4"/>
<rect x="923.0" y="605.6" width="8.7" height="3.1" rx="0.6" fill="#585858"/><rect x="923.0" y="605.6" width="8.7" height="0.9" fill="#a4a4a4"/>
<rect x="933.0" y="605.6" width="8.7" height="3.1" rx="0.6" fill="#585858"/><rect x="933.0" y="605.6" width="8.7" height="0.9" fill="#a4a4a4"/>
<rect x="943.0" y="605.6" width="8.7" height="3.1" rx="0.6" fill="#585858"/><rect x="943.0" y="605.6" width="8.7" height="0.9" fill="#a4a4a4"/>
<rect x="956.0" y="605.6" width="8.3" height="3.1" rx="0.6" fill="#585858"/><rect x="956.0" y="605.6" width="8.3" height="0.9" fill="#a4a4a4"/>
<rect x="965.6" y="605.6" width="8.3" height="3.1" rx="0.6" fill="#585858"/><rect x="965.6" y="605.6" width="8.3" height="0.9" fill="#a4a4a4"/>
<rect x="975.2" y="605.6" width="8.3" height="3.1" rx="0.6" fill="#585858"/><rect x="975.2" y="605.6" width="8.3" height="0.9" fill="#a4a4a4"/>
<rect x="984.8" y="605.6" width="8.3" height="3.1" rx="0.6" fill="#585858"/><rect x="984.8" y="605.6" width="8.3" height="0.9" fill="#a4a4a4"/>
<ellipse cx="1030.5" cy="603.8" rx="16" ry="9.5" fill="url(#ms)"/>
<path d="M1015 604 Q1020 597 1026 599 Q1021 604 1023 610 Q1016 609 1015 604 Z" fill="#d8d8d8"/>
</svg>
<!-- texts -->
<div class="t" style="left:798px;top:81px;font-size:19px;color:#1a1a1a;">Internet</div>
<div class="t" style="left:15px;top:209px;">HINET<span class="c">智能网关</span></div>
<div class="t" style="left:238px;top:104px;"><span class="c">吸盘天线</span></div>
<div class="t" style="left:375px;top:115px;">3G/GSM<span class="c">方式联网</span></div>
<div class="t" style="left:556px;top:208px;"><span class="c">电信基站</span></div>
<div class="t" style="left:105px;top:352px;"><span class="c">以太网方式连接</span>PLC</div>

<div class="ctr"><span class="c">现场没有有线网络也没有有</span>WIFI<span class="c">覆盖的</span><br><span class="c">情况下</span>HINET<span class="c">智能网关可通过本身自带的</span><br>3G<span class="c">功能通过</span><span class="r"><span class="c">电话卡</span>3G<span class="c">的方式</span></span><span class="c">接入互联网</span></div>

<div class="lbl" style="left:268px;top:655.5px;color:#8b2a2a;">现场设备端</div>
<div class="t" style="left:266px;top:677px;font-weight:bold;font-size:19px;">AC 500PLC</div>
<div class="lbl" style="left:804px;top:657px;color:#8b2a2a;">远程监控端</div>
<div class="lbl" style="left:725px;top:682px;color:#1a1a1a;">远程编程调试，远程组态等等</div>

</body></html>
